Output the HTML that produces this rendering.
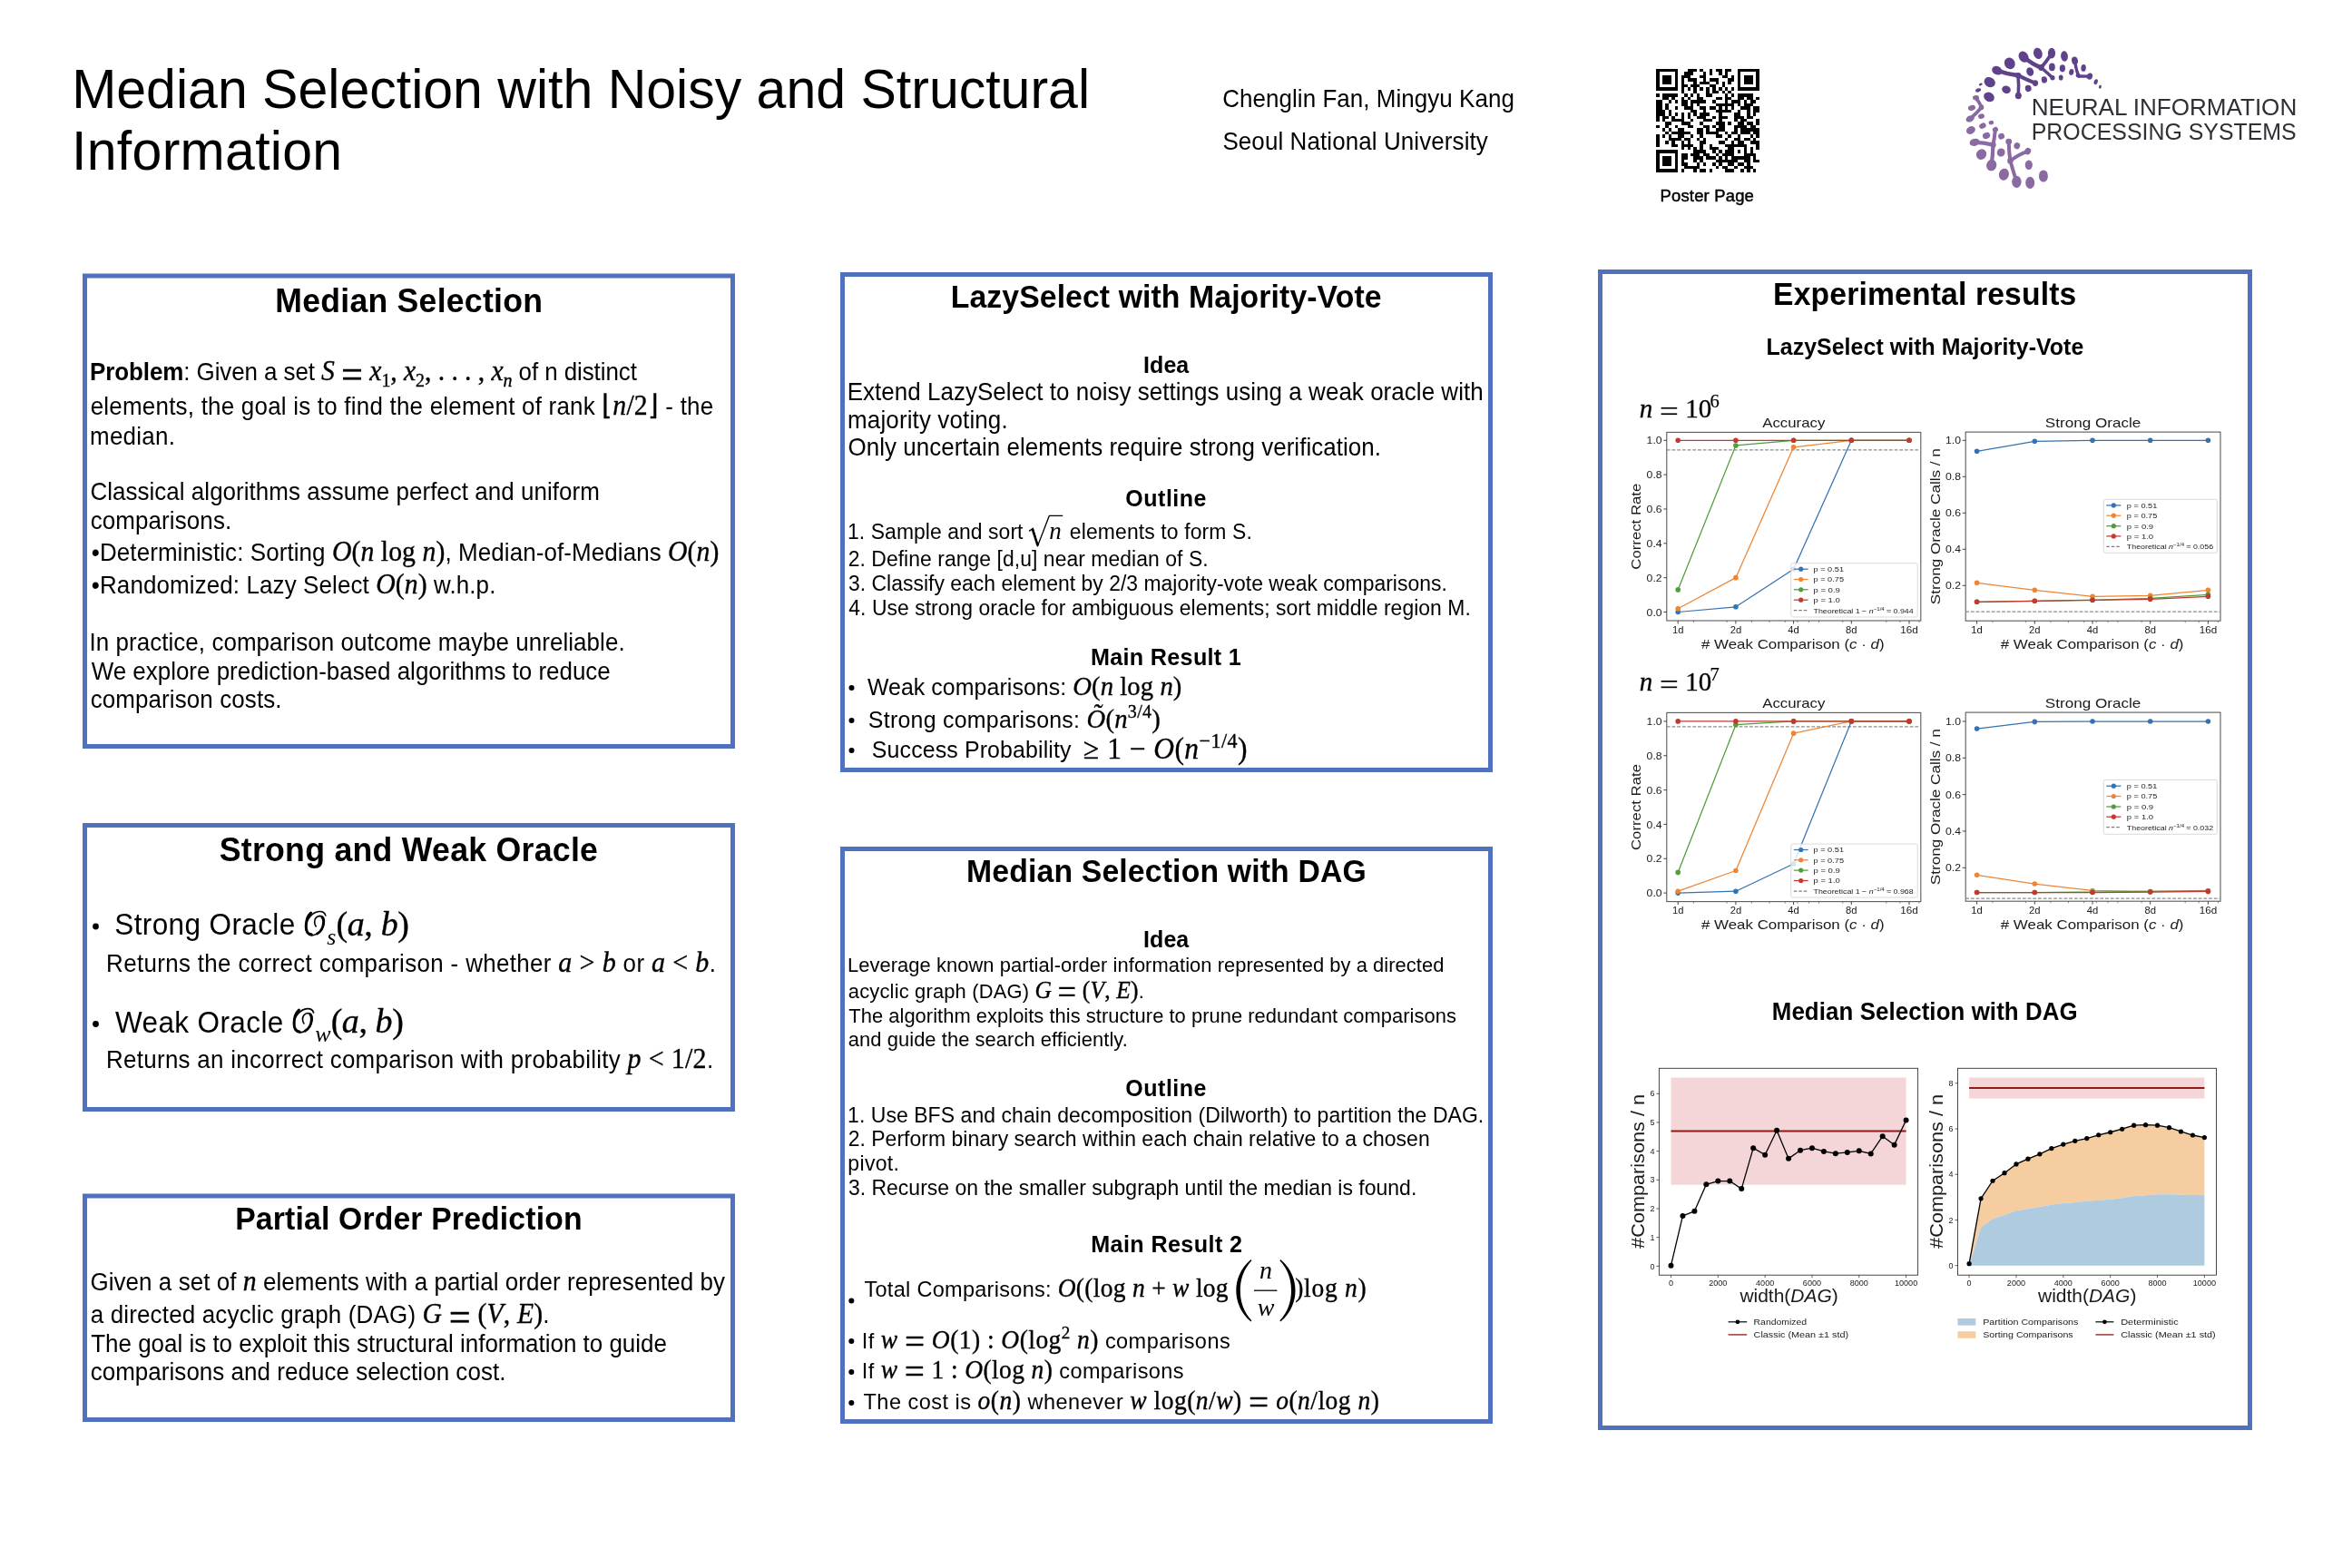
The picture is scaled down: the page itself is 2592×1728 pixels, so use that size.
<!DOCTYPE html>
<html><head><meta charset="utf-8"><title>Median Selection with Noisy and Structural Information</title>
<style>html,body{margin:0;padding:0;background:#fff;overflow:hidden;} svg{display:block;will-change:transform;}</style></head>
<body><svg width="2592" height="1728" viewBox="0 0 2592 1728" font-family="'Liberation Sans',sans-serif">
<rect width="2592" height="1728" fill="#fff"/>
<text x="79.16" y="119.00" font-size="59.0" transform="matrix(1 0 0 1.04 0 -4.760)" textLength="1121.88" lengthAdjust="spacing">Median Selection with Noisy and Structural</text>
<text x="79.06" y="186.70" font-size="59.0" transform="matrix(1 0 0 1.04 0 -7.468)" textLength="298.13" lengthAdjust="spacing">Information</text>
<text x="1347.28" y="117.80" font-size="25.95" transform="matrix(1 0 0 1.04 0 -4.712)" textLength="321.59" lengthAdjust="spacing">Chenglin Fan, Mingyu Kang</text>
<text x="1347.42" y="164.60" font-size="25.95" transform="matrix(1 0 0 1.04 0 -6.584)" textLength="292.36" lengthAdjust="spacing">Seoul National University</text>
<text x="1829.48" y="221.70" font-size="18.5" transform="matrix(1 0 0 1.04 0 -8.868)" textLength="103.44" lengthAdjust="spacing" stroke="#000" stroke-width="0.45">Poster Page</text>
<text x="2238.73" y="127.10" font-size="25.2" fill="#2e3036" textLength="292.50" lengthAdjust="spacingAndGlyphs">NEURAL INFORMATION</text>
<text x="2238.73" y="153.60" font-size="25.2" fill="#2e3036" textLength="292.00" lengthAdjust="spacingAndGlyphs">PROCESSING SYSTEMS</text>
<rect x="93.5" y="304.0" width="714" height="518.5" fill="none" stroke="#5072BE" stroke-width="5"/>
<rect x="93.5" y="909.5" width="714" height="313" fill="none" stroke="#5072BE" stroke-width="5"/>
<rect x="93.5" y="1318.0" width="714" height="246.5" fill="none" stroke="#5072BE" stroke-width="5"/>
<rect x="928.5" y="302.5" width="714" height="546" fill="none" stroke="#5072BE" stroke-width="5"/>
<rect x="928.5" y="935.5" width="714" height="631" fill="none" stroke="#5072BE" stroke-width="5"/>
<rect x="1763.5" y="299.5" width="716" height="1274" fill="none" stroke="#5072BE" stroke-width="5"/>
<text x="450.60" y="343.80" font-size="35.6" font-weight="bold" text-anchor="middle" transform="matrix(1 0 0 1.04 0 -13.752)" textLength="294.63" lengthAdjust="spacing">Median Selection</text>
<text x="99.06" y="419.40" font-size="25.95" transform="matrix(1 0 0 1.04 0 -16.776)" textLength="602.80" lengthAdjust="spacing"><tspan font-weight="bold">Problem</tspan>: Given a set <tspan font-size="29.7" stroke="#000" stroke-width="0.35"><tspan font-family="'Liberation Serif',serif" font-style="italic">S</tspan><tspan font-family="'Liberation Serif',serif"> </tspan><tspan font-family="'Liberation Serif',serif" font-size="42.5" baseline-shift="-6.7">=</tspan><tspan font-family="'Liberation Serif',serif"> </tspan><tspan font-family="'Liberation Serif',serif" font-style="italic">x</tspan><tspan baseline-shift="-6" font-size="20"><tspan font-family="'Liberation Serif',serif" font-size="20">1</tspan></tspan><tspan font-family="'Liberation Serif',serif">, </tspan><tspan font-family="'Liberation Serif',serif" font-style="italic">x</tspan><tspan baseline-shift="-6" font-size="20"><tspan font-family="'Liberation Serif',serif" font-size="20">2</tspan></tspan><tspan font-family="'Liberation Serif',serif">, . . . , </tspan><tspan font-family="'Liberation Serif',serif" font-style="italic">x</tspan><tspan baseline-shift="-6" font-size="20"><tspan font-family="'Liberation Serif',serif" font-style="italic" font-size="20">n</tspan></tspan></tspan> of n distinct</text>
<text x="99.70" y="456.70" font-size="25.95" transform="matrix(1 0 0 1.04 0 -18.268)" textLength="686.47" lengthAdjust="spacing">elements, the goal is to find the element of rank <tspan font-size="29.7" stroke="#000" stroke-width="0.35"><tspan font-family="'Liberation Serif',serif">⌊</tspan><tspan font-family="'Liberation Serif',serif" font-style="italic">n</tspan><tspan font-family="'Liberation Serif',serif">/2</tspan><tspan font-family="'Liberation Serif',serif">⌋</tspan></tspan> - the</text>
<text x="99.08" y="489.80" font-size="25.95" transform="matrix(1 0 0 1.04 0 -19.592)" textLength="93.81" lengthAdjust="spacing">median.</text>
<text x="99.48" y="551.50" font-size="25.95" transform="matrix(1 0 0 1.04 0 -22.060)" textLength="561.30" lengthAdjust="spacing">Classical algorithms assume perfect and uniform</text>
<text x="99.70" y="582.70" font-size="25.95" transform="matrix(1 0 0 1.04 0 -23.308)" textLength="155.49" lengthAdjust="spacing">comparisons.</text>
<text x="100.80" y="618.00" font-size="25.95" transform="matrix(1 0 0 1.04 0 -24.720)" textLength="691.61" lengthAdjust="spacing">•Deterministic: Sorting <tspan font-size="29.7" stroke="#000" stroke-width="0.35"><tspan font-family="'Liberation Serif',serif" font-style="italic">O</tspan><tspan font-family="'Liberation Serif',serif">(</tspan><tspan font-family="'Liberation Serif',serif" font-style="italic">n</tspan><tspan font-family="'Liberation Serif',serif"> log </tspan><tspan font-family="'Liberation Serif',serif" font-style="italic">n</tspan><tspan font-family="'Liberation Serif',serif">)</tspan></tspan>, Median-of-Medians <tspan font-size="29.7" stroke="#000" stroke-width="0.35"><tspan font-family="'Liberation Serif',serif" font-style="italic">O</tspan><tspan font-family="'Liberation Serif',serif">(</tspan><tspan font-family="'Liberation Serif',serif" font-style="italic">n</tspan><tspan font-family="'Liberation Serif',serif">)</tspan></tspan></text>
<text x="100.80" y="654.00" font-size="25.95" transform="matrix(1 0 0 1.04 0 -26.160)" textLength="445.57" lengthAdjust="spacing">•Randomized: Lazy Select <tspan font-size="29.7" stroke="#000" stroke-width="0.35"><tspan font-family="'Liberation Serif',serif" font-style="italic">O</tspan><tspan font-family="'Liberation Serif',serif">(</tspan><tspan font-family="'Liberation Serif',serif" font-style="italic">n</tspan><tspan font-family="'Liberation Serif',serif">)</tspan></tspan> w.h.p.</text>
<text x="98.41" y="717.40" font-size="25.95" transform="matrix(1 0 0 1.04 0 -28.696)" textLength="590.24" lengthAdjust="spacing">In practice, comparison outcome maybe unreliable.</text>
<text x="100.69" y="749.00" font-size="25.95" transform="matrix(1 0 0 1.04 0 -29.960)" textLength="572.06" lengthAdjust="spacing">We explore prediction-based algorithms to reduce</text>
<text x="99.70" y="779.60" font-size="25.95" transform="matrix(1 0 0 1.04 0 -31.184)" textLength="210.79" lengthAdjust="spacing">comparison costs.</text>
<text x="450.35" y="948.80" font-size="35.7" font-weight="bold" text-anchor="middle" transform="matrix(1 0 0 1.04 0 -37.952)" textLength="417.24" lengthAdjust="spacing">Strong and Weak Oracle</text>
<circle cx="105.5" cy="1021" r="3.4" fill="#000"/>
<text x="126.27" y="1030.50" font-size="31.5" transform="matrix(1 0 0 1.04 0 -41.220)" textLength="198.98" lengthAdjust="spacing">Strong Oracle</text>
<g transform="translate(313.35 992.40) scale(0.06803)" fill="none" stroke="#000" stroke-linecap="round"><path d="M668,242 C655,195 610,175 565,178 C460,185 352,300 348,420 C345,510 385,565 440,565 C540,562 640,460 646,350 C652,280 620,250 575,250 C520,252 488,300 490,350 C492,385 500,405 512,418" stroke-width="24"/><path d="M430,200 C375,250 352,340 352,420 C350,500 385,548 440,550" stroke-width="44"/><path d="M530,540 C590,505 632,430 634,350 C636,305 625,282 610,268" stroke-width="40"/></g>
<text x="360.24" y="1040.5" font-family="'Liberation Serif',serif" font-style="italic" font-size="26">s</text>
<text x="370.43" y="1030.50" font-size="31.5" textLength="80.51" lengthAdjust="spacing"><tspan font-size="38" stroke="#000" stroke-width="0.35"><tspan font-family="'Liberation Serif',serif">(</tspan><tspan font-family="'Liberation Serif',serif" font-style="italic">a</tspan><tspan font-family="'Liberation Serif',serif">, </tspan><tspan font-family="'Liberation Serif',serif" font-style="italic">b</tspan><tspan font-family="'Liberation Serif',serif">)</tspan></tspan></text>
<text x="117.08" y="1071.20" font-size="25.9" transform="matrix(1 0 0 1.04 0 -42.848)" textLength="671.77" lengthAdjust="spacing">Returns the correct comparison - whether <tspan font-size="30" stroke="#000" stroke-width="0.35"><tspan font-family="'Liberation Serif',serif" font-style="italic">a</tspan><tspan font-family="'Liberation Serif',serif"> &gt; </tspan><tspan font-family="'Liberation Serif',serif" font-style="italic">b</tspan></tspan> or <tspan font-size="30" stroke="#000" stroke-width="0.35"><tspan font-family="'Liberation Serif',serif" font-style="italic">a</tspan><tspan font-family="'Liberation Serif',serif"> &lt; </tspan><tspan font-family="'Liberation Serif',serif" font-style="italic">b</tspan></tspan>.</text>
<circle cx="105.5" cy="1128.5" r="3.4" fill="#000"/>
<text x="126.96" y="1137.60" font-size="31.5" transform="matrix(1 0 0 1.04 0 -45.504)" textLength="185.33" lengthAdjust="spacing">Weak Oracle</text>
<g transform="translate(300.15 1099.50) scale(0.06803)" fill="none" stroke="#000" stroke-linecap="round"><path d="M668,242 C655,195 610,175 565,178 C460,185 352,300 348,420 C345,510 385,565 440,565 C540,562 640,460 646,350 C652,280 620,250 575,250 C520,252 488,300 490,350 C492,385 500,405 512,418" stroke-width="24"/><path d="M430,200 C375,250 352,340 352,420 C350,500 385,548 440,550" stroke-width="44"/><path d="M530,540 C590,505 632,430 634,350 C636,305 625,282 610,268" stroke-width="40"/></g>
<text x="347.16" y="1147.6" font-family="'Liberation Serif',serif" font-style="italic" font-size="26">w</text>
<text x="364.63" y="1137.60" font-size="31.5" textLength="80.21" lengthAdjust="spacing"><tspan font-size="38" stroke="#000" stroke-width="0.35"><tspan font-family="'Liberation Serif',serif">(</tspan><tspan font-family="'Liberation Serif',serif" font-style="italic">a</tspan><tspan font-family="'Liberation Serif',serif">, </tspan><tspan font-family="'Liberation Serif',serif" font-style="italic">b</tspan><tspan font-family="'Liberation Serif',serif">)</tspan></tspan></text>
<text x="117.08" y="1177.40" font-size="25.9" transform="matrix(1 0 0 1.04 0 -47.096)" textLength="669.05" lengthAdjust="spacing">Returns an incorrect comparison with probability <tspan font-size="30" stroke="#000" stroke-width="0.35"><tspan font-family="'Liberation Serif',serif" font-style="italic">p</tspan><tspan font-family="'Liberation Serif',serif"> &lt; 1/2</tspan></tspan>.</text>
<text x="450.40" y="1354.90" font-size="33.75" font-weight="bold" text-anchor="middle" transform="matrix(1 0 0 1.04 0 -54.196)" textLength="382.36" lengthAdjust="spacing">Partial Order Prediction</text>
<text x="99.49" y="1422.30" font-size="25.97" transform="matrix(1 0 0 1.04 0 -56.892)" textLength="699.43" lengthAdjust="spacing">Given a set of <tspan font-size="29.7" stroke="#000" stroke-width="0.35"><tspan font-family="'Liberation Serif',serif" font-style="italic">n</tspan></tspan> elements with a partial order represented by</text>
<text x="99.70" y="1458.40" font-size="25.97" transform="matrix(1 0 0 1.04 0 -58.336)" textLength="505.88" lengthAdjust="spacing">a directed acyclic graph (DAG) <tspan font-size="29.7" stroke="#000" stroke-width="0.35"><tspan font-family="'Liberation Serif',serif" font-style="italic">G</tspan><tspan font-family="'Liberation Serif',serif"> </tspan><tspan font-family="'Liberation Serif',serif" font-size="42.5" baseline-shift="-6.7">=</tspan><tspan font-family="'Liberation Serif',serif"> </tspan><tspan font-family="'Liberation Serif',serif">(</tspan><tspan font-family="'Liberation Serif',serif" font-style="italic">V</tspan><tspan font-family="'Liberation Serif',serif">, </tspan><tspan font-family="'Liberation Serif',serif" font-style="italic">E</tspan><tspan font-family="'Liberation Serif',serif">)</tspan></tspan>.</text>
<text x="100.22" y="1490.50" font-size="25.97" transform="matrix(1 0 0 1.04 0 -59.620)" textLength="634.71" lengthAdjust="spacing">The goal is to exploit this structural information to guide</text>
<text x="99.70" y="1521.10" font-size="25.97" transform="matrix(1 0 0 1.04 0 -60.844)" textLength="457.69" lengthAdjust="spacing">comparisons and reduce selection cost.</text>
<text x="1285.15" y="338.70" font-size="33.78" font-weight="bold" text-anchor="middle" transform="matrix(1 0 0 1.04 0 -13.548)" textLength="474.87" lengthAdjust="spacing">LazySelect with Majority-Vote</text>
<text x="1285.15" y="410.60" font-size="25" font-weight="bold" text-anchor="middle" transform="matrix(1 0 0 1.04 0 -16.424)" textLength="50.22" lengthAdjust="spacing">Idea</text>
<text x="933.67" y="441.20" font-size="25.95" transform="matrix(1 0 0 1.04 0 -17.648)" textLength="701.01" lengthAdjust="spacing">Extend LazySelect to noisy settings using a weak oracle with</text>
<text x="934.08" y="472.50" font-size="25.95" transform="matrix(1 0 0 1.04 0 -18.900)" textLength="176.58" lengthAdjust="spacing">majority voting.</text>
<text x="934.57" y="502.50" font-size="25.95" transform="matrix(1 0 0 1.04 0 -20.100)" textLength="587.29" lengthAdjust="spacing">Only uncertain elements require strong verification.</text>
<text x="1284.90" y="558.20" font-size="25" font-weight="bold" text-anchor="middle" transform="matrix(1 0 0 1.04 0 -22.328)" textLength="89.10" lengthAdjust="spacing">Outline</text>
<text x="934.06" y="593.70" font-size="22.9" transform="matrix(1 0 0 1.04 0 -23.748)" textLength="193.40" lengthAdjust="spacing">1. Sample and sort</text>
<path d="M1134.1,585.4 L1138.3,582.4 L1143.7,601.3 L1156.3,568.4 L1171.2,568.4" fill="none" stroke="#000" stroke-width="1.3" stroke-linejoin="miter"/>
<path d="M1137.8,583.2 L1143.7,601.3" fill="none" stroke="#000" stroke-width="2.6"/>
<text x="1156.2" y="593.7" font-family="'Liberation Serif',serif" font-style="italic" font-size="27">n</text>
<text x="1178.83" y="593.70" font-size="22.9" transform="matrix(1 0 0 1.04 0 -23.748)" textLength="201.02" lengthAdjust="spacing">elements to form S.</text>
<text x="934.65" y="624.30" font-size="22.9" transform="matrix(1 0 0 1.04 0 -24.972)" textLength="396.99" lengthAdjust="spacing">2. Define range [d,u] near median of S.</text>
<text x="934.93" y="651.20" font-size="22.9" transform="matrix(1 0 0 1.04 0 -26.048)" textLength="659.93" lengthAdjust="spacing">3. Classify each element by 2/3 majority-vote weak comparisons.</text>
<text x="935.27" y="677.80" font-size="22.9" transform="matrix(1 0 0 1.04 0 -27.112)" textLength="685.55" lengthAdjust="spacing">4. Use strong oracle for ambiguous elements; sort middle region M.</text>
<text x="1284.90" y="733.00" font-size="25.2" font-weight="bold" text-anchor="middle" transform="matrix(1 0 0 1.04 0 -29.320)" textLength="165.90" lengthAdjust="spacing">Main Result 1</text>
<circle cx="938.5" cy="758" r="3" fill="#000"/>
<text x="955.89" y="765.70" font-size="24.9" transform="matrix(1 0 0 1.04 0 -30.628)" textLength="346.54" lengthAdjust="spacing">Weak comparisons: <tspan font-size="28.7" stroke="#000" stroke-width="0.35"><tspan font-family="'Liberation Serif',serif" font-style="italic">O</tspan><tspan font-family="'Liberation Serif',serif">(</tspan><tspan font-family="'Liberation Serif',serif" font-style="italic">n</tspan><tspan font-family="'Liberation Serif',serif"> log </tspan><tspan font-family="'Liberation Serif',serif" font-style="italic">n</tspan><tspan font-family="'Liberation Serif',serif">)</tspan></tspan></text>
<circle cx="938.5" cy="794" r="3" fill="#000"/>
<text x="956.87" y="801.80" font-size="24.9" transform="matrix(1 0 0 1.04 0 -32.072)" textLength="321.91" lengthAdjust="spacing">Strong comparisons: <tspan font-size="28.7" stroke="#000" stroke-width="0.35"><tspan font-family="'Liberation Serif',serif" font-style="italic">Õ</tspan><tspan font-family="'Liberation Serif',serif">(</tspan><tspan font-family="'Liberation Serif',serif" font-style="italic">n</tspan><tspan baseline-shift="11" font-size="20"><tspan font-family="'Liberation Serif',serif" font-size="20">3/4</tspan></tspan><tspan font-family="'Liberation Serif',serif">)</tspan></tspan></text>
<circle cx="938.5" cy="827" r="3" fill="#000"/>
<text x="960.87" y="835.50" font-size="24.9" transform="matrix(1 0 0 1.04 0 -33.420)" textLength="219.68" lengthAdjust="spacing">Success Probability</text>
<text x="1194.11" y="836.30" font-size="24.9" transform="matrix(1 0 0 1.04 0 -33.452)" textLength="180.28" lengthAdjust="spacing"><tspan font-size="31.5" stroke="#000" stroke-width="0.35"><tspan font-family="'Liberation Serif',serif">≥ 1 − </tspan><tspan font-family="'Liberation Serif',serif" font-style="italic">O</tspan><tspan font-family="'Liberation Serif',serif">(</tspan><tspan font-family="'Liberation Serif',serif" font-style="italic">n</tspan><tspan baseline-shift="12" font-size="22"><tspan font-family="'Liberation Serif',serif" font-size="22">−1/4</tspan></tspan><tspan font-family="'Liberation Serif',serif">)</tspan></tspan></text>
<text x="1285.35" y="971.90" font-size="33.77" font-weight="bold" text-anchor="middle" transform="matrix(1 0 0 1.04 0 -38.876)" textLength="440.80" lengthAdjust="spacing">Median Selection with DAG</text>
<text x="1285.15" y="1043.90" font-size="25" font-weight="bold" text-anchor="middle" transform="matrix(1 0 0 1.04 0 -41.756)" textLength="50.22" lengthAdjust="spacing">Idea</text>
<text x="934.00" y="1070.80" font-size="21.92" transform="matrix(1 0 0 1.04 0 -42.832)" textLength="657.42" lengthAdjust="spacing">Leverage known partial-order information represented by a directed</text>
<text x="934.87" y="1099.90" font-size="21.92" transform="matrix(1 0 0 1.04 0 -43.996)" textLength="325.91" lengthAdjust="spacing">acyclic graph (DAG) <tspan font-size="25.5" stroke="#000" stroke-width="0.35"><tspan font-family="'Liberation Serif',serif" font-style="italic">G</tspan><tspan font-family="'Liberation Serif',serif"> </tspan><tspan font-family="'Liberation Serif',serif" font-size="36.5" baseline-shift="-5.7">=</tspan><tspan font-family="'Liberation Serif',serif"> </tspan><tspan font-family="'Liberation Serif',serif">(</tspan><tspan font-family="'Liberation Serif',serif" font-style="italic">V</tspan><tspan font-family="'Liberation Serif',serif">, </tspan><tspan font-family="'Liberation Serif',serif" font-style="italic">E</tspan><tspan font-family="'Liberation Serif',serif">)</tspan></tspan>.</text>
<text x="935.31" y="1126.80" font-size="21.92" transform="matrix(1 0 0 1.04 0 -45.072)" textLength="669.60" lengthAdjust="spacing">The algorithm exploits this structure to prune redundant comparisons</text>
<text x="934.87" y="1152.80" font-size="21.92" transform="matrix(1 0 0 1.04 0 -46.112)" textLength="307.94" lengthAdjust="spacing">and guide the search efficiently.</text>
<text x="1284.90" y="1208.20" font-size="25" font-weight="bold" text-anchor="middle" transform="matrix(1 0 0 1.04 0 -48.328)" textLength="89.10" lengthAdjust="spacing">Outline</text>
<text x="934.05" y="1236.60" font-size="22.98" transform="matrix(1 0 0 1.04 0 -49.464)" textLength="701.19" lengthAdjust="spacing">1.  Use BFS and chain decomposition (Dilworth) to partition the DAG.</text>
<text x="934.64" y="1263.30" font-size="22.98" transform="matrix(1 0 0 1.04 0 -50.532)" textLength="641.07" lengthAdjust="spacing">2. Perform binary search within each chain relative to a chosen</text>
<text x="934.32" y="1289.60" font-size="22.98" transform="matrix(1 0 0 1.04 0 -51.584)" textLength="56.62" lengthAdjust="spacing">pivot.</text>
<text x="934.92" y="1316.80" font-size="22.98" transform="matrix(1 0 0 1.04 0 -52.672)" textLength="626.35" lengthAdjust="spacing">3. Recurse on the smaller subgraph until the median is found.</text>
<text x="1285.60" y="1379.60" font-size="25.2" font-weight="bold" text-anchor="middle" transform="matrix(1 0 0 1.04 0 -55.184)" textLength="166.90" lengthAdjust="spacing">Main Result 2</text>
<circle cx="938.3" cy="1433.6" r="3" fill="#000"/>
<text x="952.47" y="1429.00" font-size="23.5" transform="matrix(1 0 0 1.04 0 -57.160)" textLength="401.16" lengthAdjust="spacing">Total Comparisons: <tspan font-size="27.5" stroke="#000" stroke-width="0.35"><tspan font-family="'Liberation Serif',serif" font-style="italic">O</tspan><tspan font-family="'Liberation Serif',serif">((log </tspan><tspan font-family="'Liberation Serif',serif" font-style="italic">n</tspan><tspan font-family="'Liberation Serif',serif"> + </tspan><tspan font-family="'Liberation Serif',serif" font-style="italic">w</tspan><tspan font-family="'Liberation Serif',serif"> log </tspan></tspan></text>
<path d="M1378.6,1388 C1366.5,1398 1362.3,1411 1362.3,1422.2 C1362.3,1433.4 1366.5,1446.4 1378.6,1456.5 L1379.4,1455.2 C1370,1445.5 1366.8,1433.4 1366.8,1422.2 C1366.8,1411 1370,1399 1379.4,1389.3 Z" fill="#000"/>
<path d="M1411.2,1388 C1423.3,1398 1427.5,1411 1427.5,1422.2 C1427.5,1433.4 1423.3,1446.4 1411.2,1456.5 L1410.4,1455.2 C1419.8,1445.5 1423,1433.4 1423,1422.2 C1423,1411 1419.8,1399 1410.4,1389.3 Z" fill="#000"/>
<text x="1395" y="1409" font-family="'Liberation Serif',serif" font-style="italic" font-size="28" text-anchor="middle">n</text>
<line x1="1382" y1="1422.2" x2="1407.4" y2="1422.2" stroke="#000" stroke-width="1.3"/>
<text x="1395" y="1450.4" font-family="'Liberation Serif',serif" font-style="italic" font-size="28" text-anchor="middle">w</text>
<text x="1427.20" y="1429.00" font-size="23.5" transform="matrix(1 0 0 1.04 0 -57.160)" textLength="78.58" lengthAdjust="spacing"><tspan font-size="27.5" stroke="#000" stroke-width="0.35"><tspan font-family="'Liberation Serif',serif">)log </tspan><tspan font-family="'Liberation Serif',serif" font-style="italic">n</tspan><tspan font-family="'Liberation Serif',serif">)</tspan></tspan></text>
<circle cx="938.3" cy="1478" r="3" fill="#000"/>
<text x="949.83" y="1485.60" font-size="23.5" transform="matrix(1 0 0 1.04 0 -59.424)" textLength="405.84" lengthAdjust="spacing">If <tspan font-size="27.5" stroke="#000" stroke-width="0.35"><tspan font-family="'Liberation Serif',serif" font-style="italic">w</tspan><tspan font-family="'Liberation Serif',serif"> </tspan><tspan font-family="'Liberation Serif',serif" font-size="39.3" baseline-shift="-6.2">=</tspan><tspan font-family="'Liberation Serif',serif"> </tspan><tspan font-family="'Liberation Serif',serif" font-style="italic">O</tspan><tspan font-family="'Liberation Serif',serif">(1) : </tspan><tspan font-family="'Liberation Serif',serif" font-style="italic">O</tspan><tspan font-family="'Liberation Serif',serif">(log</tspan><tspan baseline-shift="10" font-size="19"><tspan font-family="'Liberation Serif',serif" font-size="19">2</tspan></tspan><tspan font-family="'Liberation Serif',serif"> </tspan><tspan font-family="'Liberation Serif',serif" font-style="italic">n</tspan><tspan font-family="'Liberation Serif',serif">)</tspan></tspan> comparisons</text>
<circle cx="938.3" cy="1512" r="3" fill="#000"/>
<text x="949.83" y="1519.30" font-size="23.5" transform="matrix(1 0 0 1.04 0 -60.772)" textLength="354.66" lengthAdjust="spacing">If <tspan font-size="27.5" stroke="#000" stroke-width="0.35"><tspan font-family="'Liberation Serif',serif" font-style="italic">w</tspan><tspan font-family="'Liberation Serif',serif"> </tspan><tspan font-family="'Liberation Serif',serif" font-size="39.3" baseline-shift="-6.2">=</tspan><tspan font-family="'Liberation Serif',serif"> </tspan><tspan font-family="'Liberation Serif',serif">1 : </tspan><tspan font-family="'Liberation Serif',serif" font-style="italic">O</tspan><tspan font-family="'Liberation Serif',serif">(log </tspan><tspan font-family="'Liberation Serif',serif" font-style="italic">n</tspan><tspan font-family="'Liberation Serif',serif">)</tspan></tspan> comparisons</text>
<circle cx="938.3" cy="1546" r="3" fill="#000"/>
<text x="951.47" y="1553.00" font-size="23.5" transform="matrix(1 0 0 1.04 0 -62.120)" textLength="568.36" lengthAdjust="spacing">The cost is <tspan font-size="27.5" stroke="#000" stroke-width="0.35"><tspan font-family="'Liberation Serif',serif" font-style="italic">o</tspan><tspan font-family="'Liberation Serif',serif">(</tspan><tspan font-family="'Liberation Serif',serif" font-style="italic">n</tspan><tspan font-family="'Liberation Serif',serif">)</tspan></tspan> whenever <tspan font-size="27.5" stroke="#000" stroke-width="0.35"><tspan font-family="'Liberation Serif',serif" font-style="italic">w</tspan><tspan font-family="'Liberation Serif',serif"> log(</tspan><tspan font-family="'Liberation Serif',serif" font-style="italic">n</tspan><tspan font-family="'Liberation Serif',serif">/</tspan><tspan font-family="'Liberation Serif',serif" font-style="italic">w</tspan><tspan font-family="'Liberation Serif',serif">)</tspan><tspan font-family="'Liberation Serif',serif"> </tspan><tspan font-family="'Liberation Serif',serif" font-size="39.3" baseline-shift="-6.2">=</tspan><tspan font-family="'Liberation Serif',serif"> </tspan><tspan font-family="'Liberation Serif',serif" font-style="italic">o</tspan><tspan font-family="'Liberation Serif',serif">(</tspan><tspan font-family="'Liberation Serif',serif" font-style="italic">n</tspan><tspan font-family="'Liberation Serif',serif">/log </tspan><tspan font-family="'Liberation Serif',serif" font-style="italic">n</tspan><tspan font-family="'Liberation Serif',serif">)</tspan></tspan></text>
<text x="2121.20" y="336.20" font-size="33.65" font-weight="bold" text-anchor="middle" transform="matrix(1 0 0 1.04 0 -13.448)" textLength="334.26" lengthAdjust="spacing">Experimental results</text>
<text x="2121.40" y="391.50" font-size="24.86" font-weight="bold" text-anchor="middle" transform="matrix(1 0 0 1.04 0 -15.660)" textLength="349.82" lengthAdjust="spacing">LazySelect with Majority-Vote</text>
<text x="2121.20" y="1124.30" font-size="25.85" font-weight="bold" text-anchor="middle" transform="matrix(1 0 0 1.04 0 -44.972)" textLength="336.89" lengthAdjust="spacing">Median Selection with DAG</text>
<text x="1806.7" y="459.5" font-size="29" font-family="'Liberation Serif',serif" font-style="italic" fill="#000" stroke="#000" stroke-width="0.3">n</text>
<rect x="1830.6" y="448.90" width="17.6" height="1.7" fill="#000"/><rect x="1830.6" y="455.40" width="17.6" height="1.7" fill="#000"/>
<text x="1857.2" y="459.5" font-size="29" font-family="'Liberation Serif',serif" fill="#000" stroke="#000" stroke-width="0.3">10</text>
<text x="1884.6" y="448.5" font-size="20.5" font-family="'Liberation Serif',serif" fill="#000" stroke="#000" stroke-width="0.2">6</text>
<text x="1806.7" y="760.6" font-size="29" font-family="'Liberation Serif',serif" font-style="italic" fill="#000" stroke="#000" stroke-width="0.3">n</text>
<rect x="1830.6" y="750.00" width="17.6" height="1.7" fill="#000"/><rect x="1830.6" y="756.50" width="17.6" height="1.7" fill="#000"/>
<text x="1857.2" y="760.6" font-size="29" font-family="'Liberation Serif',serif" fill="#000" stroke="#000" stroke-width="0.3">10</text>
<text x="1884.6" y="749.6" font-size="20.5" font-family="'Liberation Serif',serif" fill="#000" stroke="#000" stroke-width="0.2">7</text>
<rect x="1836.80" y="476.40" width="280.00" height="207.60" fill="#fff" stroke="#5a5a5a" stroke-width="1.1"/>
<text x="1976.80" y="471.40" font-size="14.2" font-family="'Liberation Sans',sans-serif" fill="#1a1a1a" text-anchor="middle" textLength="69.20" lengthAdjust="spacingAndGlyphs">Accuracy</text>
<line x1="1833.30" y1="674.50" x2="1836.80" y2="674.50" stroke="#333" stroke-width="0.9"/>
<text x="1831.60" y="678.60" font-size="11.6" font-family="'Liberation Sans',sans-serif" fill="#1a1a1a" text-anchor="end" textLength="17.00" lengthAdjust="spacingAndGlyphs">0.0</text>
<line x1="1833.30" y1="636.66" x2="1836.80" y2="636.66" stroke="#333" stroke-width="0.9"/>
<text x="1831.60" y="640.76" font-size="11.6" font-family="'Liberation Sans',sans-serif" fill="#1a1a1a" text-anchor="end" textLength="17.00" lengthAdjust="spacingAndGlyphs">0.2</text>
<line x1="1833.30" y1="598.82" x2="1836.80" y2="598.82" stroke="#333" stroke-width="0.9"/>
<text x="1831.60" y="602.92" font-size="11.6" font-family="'Liberation Sans',sans-serif" fill="#1a1a1a" text-anchor="end" textLength="17.00" lengthAdjust="spacingAndGlyphs">0.4</text>
<line x1="1833.30" y1="560.98" x2="1836.80" y2="560.98" stroke="#333" stroke-width="0.9"/>
<text x="1831.60" y="565.08" font-size="11.6" font-family="'Liberation Sans',sans-serif" fill="#1a1a1a" text-anchor="end" textLength="17.00" lengthAdjust="spacingAndGlyphs">0.6</text>
<line x1="1833.30" y1="523.14" x2="1836.80" y2="523.14" stroke="#333" stroke-width="0.9"/>
<text x="1831.60" y="527.24" font-size="11.6" font-family="'Liberation Sans',sans-serif" fill="#1a1a1a" text-anchor="end" textLength="17.00" lengthAdjust="spacingAndGlyphs">0.8</text>
<line x1="1833.30" y1="485.30" x2="1836.80" y2="485.30" stroke="#333" stroke-width="0.9"/>
<text x="1831.60" y="489.40" font-size="11.6" font-family="'Liberation Sans',sans-serif" fill="#1a1a1a" text-anchor="end" textLength="17.00" lengthAdjust="spacingAndGlyphs">1.0</text>
<line x1="1849.20" y1="684.00" x2="1849.20" y2="687.50" stroke="#333" stroke-width="0.9"/>
<text x="1849.20" y="697.80" font-size="11.6" font-family="'Liberation Sans',sans-serif" fill="#1a1a1a" text-anchor="middle" textLength="12.50" lengthAdjust="spacingAndGlyphs">1d</text>
<line x1="1912.90" y1="684.00" x2="1912.90" y2="687.50" stroke="#333" stroke-width="0.9"/>
<text x="1912.90" y="697.80" font-size="11.6" font-family="'Liberation Sans',sans-serif" fill="#1a1a1a" text-anchor="middle" textLength="12.50" lengthAdjust="spacingAndGlyphs">2d</text>
<line x1="1976.60" y1="684.00" x2="1976.60" y2="687.50" stroke="#333" stroke-width="0.9"/>
<text x="1976.60" y="697.80" font-size="11.6" font-family="'Liberation Sans',sans-serif" fill="#1a1a1a" text-anchor="middle" textLength="12.50" lengthAdjust="spacingAndGlyphs">4d</text>
<line x1="2040.30" y1="684.00" x2="2040.30" y2="687.50" stroke="#333" stroke-width="0.9"/>
<text x="2040.30" y="697.80" font-size="11.6" font-family="'Liberation Sans',sans-serif" fill="#1a1a1a" text-anchor="middle" textLength="12.50" lengthAdjust="spacingAndGlyphs">8d</text>
<line x1="2104.00" y1="684.00" x2="2104.00" y2="687.50" stroke="#333" stroke-width="0.9"/>
<text x="2104.00" y="697.80" font-size="11.6" font-family="'Liberation Sans',sans-serif" fill="#1a1a1a" text-anchor="middle" textLength="19.50" lengthAdjust="spacingAndGlyphs">16d</text>
<line x1="1866.40" y1="684.00" x2="1866.40" y2="686.00" stroke="#555" stroke-width="0.7"/>
<line x1="1903.00" y1="684.00" x2="1903.00" y2="686.00" stroke="#555" stroke-width="0.7"/>
<line x1="1930.40" y1="684.00" x2="1930.40" y2="686.00" stroke="#555" stroke-width="0.7"/>
<line x1="1950.10" y1="684.00" x2="1950.10" y2="686.00" stroke="#555" stroke-width="0.7"/>
<line x1="1967.30" y1="684.00" x2="1967.30" y2="686.00" stroke="#555" stroke-width="0.7"/>
<line x1="1980.90" y1="684.00" x2="1980.90" y2="686.00" stroke="#555" stroke-width="0.7"/>
<line x1="1993.60" y1="684.00" x2="1993.60" y2="686.00" stroke="#555" stroke-width="0.7"/>
<line x1="2004.50" y1="684.00" x2="2004.50" y2="686.00" stroke="#555" stroke-width="0.7"/>
<line x1="2030.70" y1="684.00" x2="2030.70" y2="686.00" stroke="#555" stroke-width="0.7"/>
<line x1="2078.80" y1="684.00" x2="2078.80" y2="686.00" stroke="#555" stroke-width="0.7"/>
<line x1="2093.80" y1="684.00" x2="2093.80" y2="686.00" stroke="#555" stroke-width="0.7"/>
<line x1="2115.00" y1="684.00" x2="2115.00" y2="686.00" stroke="#555" stroke-width="0.7"/>
<text x="1975.80" y="714.60" font-size="14.4" font-family="'Liberation Sans',sans-serif" fill="#1a1a1a" text-anchor="middle" textLength="201.70" lengthAdjust="spacingAndGlyphs"># Weak Comparison (<tspan font-style="italic">c</tspan> · <tspan font-style="italic">d</tspan>)</text>
<text x="1807.88" y="580.20" font-size="14.4" font-family="'Liberation Sans',sans-serif" fill="#1a1a1a" text-anchor="middle" transform="rotate(-90 1807.88 580.20)" textLength="95.00" lengthAdjust="spacingAndGlyphs">Correct Rate</text>
<line x1="1836.80" y1="495.90" x2="2116.80" y2="495.90" stroke="#8c8c8c" stroke-width="1.3" stroke-dasharray="3.8,1.9"/>
<polyline points="1849.20,674.50 1912.90,668.82 1976.60,627.20 2040.30,485.30 2104.00,485.30" fill="none" stroke="#3472b2" stroke-width="1.25" stroke-linejoin="round"/>
<circle cx="1849.20" cy="674.50" r="2.8" fill="#3472b2"/>
<circle cx="1912.90" cy="668.82" r="2.8" fill="#3472b2"/>
<circle cx="1976.60" cy="627.20" r="2.8" fill="#3472b2"/>
<circle cx="2040.30" cy="485.30" r="2.8" fill="#3472b2"/>
<circle cx="2104.00" cy="485.30" r="2.8" fill="#3472b2"/>
<polyline points="1849.20,670.72 1912.90,636.66 1976.60,492.87 2040.30,485.30 2104.00,485.30" fill="none" stroke="#ee8534" stroke-width="1.25" stroke-linejoin="round"/>
<circle cx="1849.20" cy="670.72" r="2.8" fill="#ee8534"/>
<circle cx="1912.90" cy="636.66" r="2.8" fill="#ee8534"/>
<circle cx="1976.60" cy="492.87" r="2.8" fill="#ee8534"/>
<circle cx="2040.30" cy="485.30" r="2.8" fill="#ee8534"/>
<circle cx="2104.00" cy="485.30" r="2.8" fill="#ee8534"/>
<polyline points="1849.20,649.90 1912.90,490.98 1976.60,485.30 2040.30,485.30 2104.00,485.30" fill="none" stroke="#509e3a" stroke-width="1.25" stroke-linejoin="round"/>
<circle cx="1849.20" cy="649.90" r="2.8" fill="#509e3a"/>
<circle cx="1912.90" cy="490.98" r="2.8" fill="#509e3a"/>
<circle cx="1976.60" cy="485.30" r="2.8" fill="#509e3a"/>
<circle cx="2040.30" cy="485.30" r="2.8" fill="#509e3a"/>
<circle cx="2104.00" cy="485.30" r="2.8" fill="#509e3a"/>
<polyline points="1849.20,485.30 1912.90,485.30 1976.60,485.30 2040.30,485.30 2104.00,485.30" fill="none" stroke="#c53830" stroke-width="1.25" stroke-linejoin="round"/>
<circle cx="1849.20" cy="485.30" r="2.8" fill="#c53830"/>
<circle cx="1912.90" cy="485.30" r="2.8" fill="#c53830"/>
<circle cx="1976.60" cy="485.30" r="2.8" fill="#c53830"/>
<circle cx="2040.30" cy="485.30" r="2.8" fill="#c53830"/>
<circle cx="2104.00" cy="485.30" r="2.8" fill="#c53830"/>
<rect x="1973.80" y="620.70" width="139.40" height="59.30" rx="1.8" fill="#fff" fill-opacity="0.8" stroke="#d0d0d0" stroke-width="0.8"/>
<line x1="1976.80" y1="627.20" x2="1992.60" y2="627.20" stroke="#3472b2" stroke-width="1.25"/>
<circle cx="1984.70" cy="627.20" r="2.6" fill="#3472b2"/>
<text x="1998.50" y="630.10" font-size="8.1" font-family="'Liberation Sans',sans-serif" fill="#1a1a1a" textLength="33.50" lengthAdjust="spacingAndGlyphs">p = 0.51</text>
<line x1="1976.80" y1="638.50" x2="1992.60" y2="638.50" stroke="#ee8534" stroke-width="1.25"/>
<circle cx="1984.70" cy="638.50" r="2.6" fill="#ee8534"/>
<text x="1998.50" y="641.40" font-size="8.1" font-family="'Liberation Sans',sans-serif" fill="#1a1a1a" textLength="33.50" lengthAdjust="spacingAndGlyphs">p = 0.75</text>
<line x1="1976.80" y1="649.80" x2="1992.60" y2="649.80" stroke="#509e3a" stroke-width="1.25"/>
<circle cx="1984.70" cy="649.80" r="2.6" fill="#509e3a"/>
<text x="1998.50" y="652.70" font-size="8.1" font-family="'Liberation Sans',sans-serif" fill="#1a1a1a" textLength="29.35" lengthAdjust="spacingAndGlyphs">p = 0.9</text>
<line x1="1976.80" y1="661.20" x2="1992.60" y2="661.20" stroke="#c53830" stroke-width="1.25"/>
<circle cx="1984.70" cy="661.20" r="2.6" fill="#c53830"/>
<text x="1998.50" y="664.10" font-size="8.1" font-family="'Liberation Sans',sans-serif" fill="#1a1a1a" textLength="29.35" lengthAdjust="spacingAndGlyphs">p = 1.0</text>
<line x1="1976.80" y1="672.70" x2="1992.60" y2="672.70" stroke="#7f7f7f" stroke-width="1.25" stroke-dasharray="3.5,2"/>
<text x="1998.50" y="675.60" font-size="8.1" font-family="'Liberation Sans',sans-serif" fill="#1a1a1a" textLength="110.20" lengthAdjust="spacingAndGlyphs"><tspan>Theoretical 1 − </tspan><tspan font-style="italic">n</tspan><tspan baseline-shift="3.5" font-size="5.6">−1/4</tspan><tspan> ≈ 0.944</tspan></text>
<rect x="2166.20" y="476.10" width="280.80" height="208.10" fill="#fff" stroke="#5a5a5a" stroke-width="1.1"/>
<text x="2306.60" y="471.10" font-size="14.2" font-family="'Liberation Sans',sans-serif" fill="#1a1a1a" text-anchor="middle" textLength="105.50" lengthAdjust="spacingAndGlyphs">Strong Oracle</text>
<line x1="2162.70" y1="645.30" x2="2166.20" y2="645.30" stroke="#333" stroke-width="0.9"/>
<text x="2161.00" y="649.40" font-size="11.6" font-family="'Liberation Sans',sans-serif" fill="#1a1a1a" text-anchor="end" textLength="17.00" lengthAdjust="spacingAndGlyphs">0.2</text>
<line x1="2162.70" y1="605.30" x2="2166.20" y2="605.30" stroke="#333" stroke-width="0.9"/>
<text x="2161.00" y="609.40" font-size="11.6" font-family="'Liberation Sans',sans-serif" fill="#1a1a1a" text-anchor="end" textLength="17.00" lengthAdjust="spacingAndGlyphs">0.4</text>
<line x1="2162.70" y1="565.30" x2="2166.20" y2="565.30" stroke="#333" stroke-width="0.9"/>
<text x="2161.00" y="569.40" font-size="11.6" font-family="'Liberation Sans',sans-serif" fill="#1a1a1a" text-anchor="end" textLength="17.00" lengthAdjust="spacingAndGlyphs">0.6</text>
<line x1="2162.70" y1="525.30" x2="2166.20" y2="525.30" stroke="#333" stroke-width="0.9"/>
<text x="2161.00" y="529.40" font-size="11.6" font-family="'Liberation Sans',sans-serif" fill="#1a1a1a" text-anchor="end" textLength="17.00" lengthAdjust="spacingAndGlyphs">0.8</text>
<line x1="2162.70" y1="485.30" x2="2166.20" y2="485.30" stroke="#333" stroke-width="0.9"/>
<text x="2161.00" y="489.40" font-size="11.6" font-family="'Liberation Sans',sans-serif" fill="#1a1a1a" text-anchor="end" textLength="17.00" lengthAdjust="spacingAndGlyphs">1.0</text>
<line x1="2178.60" y1="684.20" x2="2178.60" y2="687.70" stroke="#333" stroke-width="0.9"/>
<text x="2178.60" y="698.00" font-size="11.6" font-family="'Liberation Sans',sans-serif" fill="#1a1a1a" text-anchor="middle" textLength="12.50" lengthAdjust="spacingAndGlyphs">1d</text>
<line x1="2242.30" y1="684.20" x2="2242.30" y2="687.70" stroke="#333" stroke-width="0.9"/>
<text x="2242.30" y="698.00" font-size="11.6" font-family="'Liberation Sans',sans-serif" fill="#1a1a1a" text-anchor="middle" textLength="12.50" lengthAdjust="spacingAndGlyphs">2d</text>
<line x1="2306.00" y1="684.20" x2="2306.00" y2="687.70" stroke="#333" stroke-width="0.9"/>
<text x="2306.00" y="698.00" font-size="11.6" font-family="'Liberation Sans',sans-serif" fill="#1a1a1a" text-anchor="middle" textLength="12.50" lengthAdjust="spacingAndGlyphs">4d</text>
<line x1="2369.70" y1="684.20" x2="2369.70" y2="687.70" stroke="#333" stroke-width="0.9"/>
<text x="2369.70" y="698.00" font-size="11.6" font-family="'Liberation Sans',sans-serif" fill="#1a1a1a" text-anchor="middle" textLength="12.50" lengthAdjust="spacingAndGlyphs">8d</text>
<line x1="2433.40" y1="684.20" x2="2433.40" y2="687.70" stroke="#333" stroke-width="0.9"/>
<text x="2433.40" y="698.00" font-size="11.6" font-family="'Liberation Sans',sans-serif" fill="#1a1a1a" text-anchor="middle" textLength="19.50" lengthAdjust="spacingAndGlyphs">16d</text>
<line x1="2195.80" y1="684.20" x2="2195.80" y2="686.20" stroke="#555" stroke-width="0.7"/>
<line x1="2232.40" y1="684.20" x2="2232.40" y2="686.20" stroke="#555" stroke-width="0.7"/>
<line x1="2259.80" y1="684.20" x2="2259.80" y2="686.20" stroke="#555" stroke-width="0.7"/>
<line x1="2279.50" y1="684.20" x2="2279.50" y2="686.20" stroke="#555" stroke-width="0.7"/>
<line x1="2296.70" y1="684.20" x2="2296.70" y2="686.20" stroke="#555" stroke-width="0.7"/>
<line x1="2310.30" y1="684.20" x2="2310.30" y2="686.20" stroke="#555" stroke-width="0.7"/>
<line x1="2323.00" y1="684.20" x2="2323.00" y2="686.20" stroke="#555" stroke-width="0.7"/>
<line x1="2333.90" y1="684.20" x2="2333.90" y2="686.20" stroke="#555" stroke-width="0.7"/>
<line x1="2360.10" y1="684.20" x2="2360.10" y2="686.20" stroke="#555" stroke-width="0.7"/>
<line x1="2408.20" y1="684.20" x2="2408.20" y2="686.20" stroke="#555" stroke-width="0.7"/>
<line x1="2423.20" y1="684.20" x2="2423.20" y2="686.20" stroke="#555" stroke-width="0.7"/>
<line x1="2444.40" y1="684.20" x2="2444.40" y2="686.20" stroke="#555" stroke-width="0.7"/>
<text x="2305.60" y="714.80" font-size="14.4" font-family="'Liberation Sans',sans-serif" fill="#1a1a1a" text-anchor="middle" textLength="201.70" lengthAdjust="spacingAndGlyphs"># Weak Comparison (<tspan font-style="italic">c</tspan> · <tspan font-style="italic">d</tspan>)</text>
<text x="2137.78" y="580.15" font-size="14.4" font-family="'Liberation Sans',sans-serif" fill="#1a1a1a" text-anchor="middle" transform="rotate(-90 2137.78 580.15)" textLength="172.00" lengthAdjust="spacingAndGlyphs">Strong Oracle Calls / n</text>
<line x1="2166.20" y1="674.10" x2="2447.00" y2="674.10" stroke="#8c8c8c" stroke-width="1.3" stroke-dasharray="3.8,1.9"/>
<polyline points="2178.60,497.30 2242.30,486.30 2306.00,485.30 2369.70,485.30 2433.40,485.30" fill="none" stroke="#3472b2" stroke-width="1.25" stroke-linejoin="round"/>
<circle cx="2178.60" cy="497.30" r="2.8" fill="#3472b2"/>
<circle cx="2242.30" cy="486.30" r="2.8" fill="#3472b2"/>
<circle cx="2306.00" cy="485.30" r="2.8" fill="#3472b2"/>
<circle cx="2369.70" cy="485.30" r="2.8" fill="#3472b2"/>
<circle cx="2433.40" cy="485.30" r="2.8" fill="#3472b2"/>
<polyline points="2178.60,642.30 2242.30,650.30 2306.00,657.30 2369.70,656.30 2433.40,650.30" fill="none" stroke="#ee8534" stroke-width="1.25" stroke-linejoin="round"/>
<circle cx="2178.60" cy="642.30" r="2.8" fill="#ee8534"/>
<circle cx="2242.30" cy="650.30" r="2.8" fill="#ee8534"/>
<circle cx="2306.00" cy="657.30" r="2.8" fill="#ee8534"/>
<circle cx="2369.70" cy="656.30" r="2.8" fill="#ee8534"/>
<circle cx="2433.40" cy="650.30" r="2.8" fill="#ee8534"/>
<polyline points="2178.60,663.30 2242.30,662.30 2306.00,661.30 2369.70,659.30 2433.40,655.30" fill="none" stroke="#509e3a" stroke-width="1.25" stroke-linejoin="round"/>
<circle cx="2178.60" cy="663.30" r="2.8" fill="#509e3a"/>
<circle cx="2242.30" cy="662.30" r="2.8" fill="#509e3a"/>
<circle cx="2306.00" cy="661.30" r="2.8" fill="#509e3a"/>
<circle cx="2369.70" cy="659.30" r="2.8" fill="#509e3a"/>
<circle cx="2433.40" cy="655.30" r="2.8" fill="#509e3a"/>
<polyline points="2178.60,663.30 2242.30,662.30 2306.00,661.30 2369.70,660.30 2433.40,657.30" fill="none" stroke="#c53830" stroke-width="1.25" stroke-linejoin="round"/>
<circle cx="2178.60" cy="663.30" r="2.8" fill="#c53830"/>
<circle cx="2242.30" cy="662.30" r="2.8" fill="#c53830"/>
<circle cx="2306.00" cy="661.30" r="2.8" fill="#c53830"/>
<circle cx="2369.70" cy="660.30" r="2.8" fill="#c53830"/>
<circle cx="2433.40" cy="657.30" r="2.8" fill="#c53830"/>
<rect x="2318.30" y="550.40" width="125.00" height="58.90" rx="1.8" fill="#fff" fill-opacity="0.8" stroke="#d0d0d0" stroke-width="0.8"/>
<line x1="2321.30" y1="556.90" x2="2337.30" y2="556.90" stroke="#3472b2" stroke-width="1.25"/>
<circle cx="2329.30" cy="556.90" r="2.6" fill="#3472b2"/>
<text x="2343.80" y="559.80" font-size="8.1" font-family="'Liberation Sans',sans-serif" fill="#1a1a1a" textLength="33.50" lengthAdjust="spacingAndGlyphs">p = 0.51</text>
<line x1="2321.30" y1="568.20" x2="2337.30" y2="568.20" stroke="#ee8534" stroke-width="1.25"/>
<circle cx="2329.30" cy="568.20" r="2.6" fill="#ee8534"/>
<text x="2343.80" y="571.10" font-size="8.1" font-family="'Liberation Sans',sans-serif" fill="#1a1a1a" textLength="33.50" lengthAdjust="spacingAndGlyphs">p = 0.75</text>
<line x1="2321.30" y1="579.70" x2="2337.30" y2="579.70" stroke="#509e3a" stroke-width="1.25"/>
<circle cx="2329.30" cy="579.70" r="2.6" fill="#509e3a"/>
<text x="2343.80" y="582.60" font-size="8.1" font-family="'Liberation Sans',sans-serif" fill="#1a1a1a" textLength="29.35" lengthAdjust="spacingAndGlyphs">p = 0.9</text>
<line x1="2321.30" y1="590.90" x2="2337.30" y2="590.90" stroke="#c53830" stroke-width="1.25"/>
<circle cx="2329.30" cy="590.90" r="2.6" fill="#c53830"/>
<text x="2343.80" y="593.80" font-size="8.1" font-family="'Liberation Sans',sans-serif" fill="#1a1a1a" textLength="29.35" lengthAdjust="spacingAndGlyphs">p = 1.0</text>
<line x1="2321.30" y1="602.40" x2="2337.30" y2="602.40" stroke="#7f7f7f" stroke-width="1.25" stroke-dasharray="3.5,2"/>
<text x="2343.80" y="605.30" font-size="8.1" font-family="'Liberation Sans',sans-serif" fill="#1a1a1a" textLength="95.30" lengthAdjust="spacingAndGlyphs"><tspan>Theoretical </tspan><tspan font-style="italic">n</tspan><tspan baseline-shift="3.5" font-size="5.6">−1/4</tspan><tspan> ≈ 0.056</tspan></text>
<rect x="1836.80" y="785.40" width="280.00" height="208.20" fill="#fff" stroke="#5a5a5a" stroke-width="1.1"/>
<text x="1976.80" y="780.40" font-size="14.2" font-family="'Liberation Sans',sans-serif" fill="#1a1a1a" text-anchor="middle" textLength="69.20" lengthAdjust="spacingAndGlyphs">Accuracy</text>
<line x1="1833.30" y1="984.10" x2="1836.80" y2="984.10" stroke="#333" stroke-width="0.9"/>
<text x="1831.60" y="988.20" font-size="11.6" font-family="'Liberation Sans',sans-serif" fill="#1a1a1a" text-anchor="end" textLength="17.00" lengthAdjust="spacingAndGlyphs">0.0</text>
<line x1="1833.30" y1="946.26" x2="1836.80" y2="946.26" stroke="#333" stroke-width="0.9"/>
<text x="1831.60" y="950.36" font-size="11.6" font-family="'Liberation Sans',sans-serif" fill="#1a1a1a" text-anchor="end" textLength="17.00" lengthAdjust="spacingAndGlyphs">0.2</text>
<line x1="1833.30" y1="908.42" x2="1836.80" y2="908.42" stroke="#333" stroke-width="0.9"/>
<text x="1831.60" y="912.52" font-size="11.6" font-family="'Liberation Sans',sans-serif" fill="#1a1a1a" text-anchor="end" textLength="17.00" lengthAdjust="spacingAndGlyphs">0.4</text>
<line x1="1833.30" y1="870.58" x2="1836.80" y2="870.58" stroke="#333" stroke-width="0.9"/>
<text x="1831.60" y="874.68" font-size="11.6" font-family="'Liberation Sans',sans-serif" fill="#1a1a1a" text-anchor="end" textLength="17.00" lengthAdjust="spacingAndGlyphs">0.6</text>
<line x1="1833.30" y1="832.74" x2="1836.80" y2="832.74" stroke="#333" stroke-width="0.9"/>
<text x="1831.60" y="836.84" font-size="11.6" font-family="'Liberation Sans',sans-serif" fill="#1a1a1a" text-anchor="end" textLength="17.00" lengthAdjust="spacingAndGlyphs">0.8</text>
<line x1="1833.30" y1="794.90" x2="1836.80" y2="794.90" stroke="#333" stroke-width="0.9"/>
<text x="1831.60" y="799.00" font-size="11.6" font-family="'Liberation Sans',sans-serif" fill="#1a1a1a" text-anchor="end" textLength="17.00" lengthAdjust="spacingAndGlyphs">1.0</text>
<line x1="1849.20" y1="993.60" x2="1849.20" y2="997.10" stroke="#333" stroke-width="0.9"/>
<text x="1849.20" y="1007.40" font-size="11.6" font-family="'Liberation Sans',sans-serif" fill="#1a1a1a" text-anchor="middle" textLength="12.50" lengthAdjust="spacingAndGlyphs">1d</text>
<line x1="1912.90" y1="993.60" x2="1912.90" y2="997.10" stroke="#333" stroke-width="0.9"/>
<text x="1912.90" y="1007.40" font-size="11.6" font-family="'Liberation Sans',sans-serif" fill="#1a1a1a" text-anchor="middle" textLength="12.50" lengthAdjust="spacingAndGlyphs">2d</text>
<line x1="1976.60" y1="993.60" x2="1976.60" y2="997.10" stroke="#333" stroke-width="0.9"/>
<text x="1976.60" y="1007.40" font-size="11.6" font-family="'Liberation Sans',sans-serif" fill="#1a1a1a" text-anchor="middle" textLength="12.50" lengthAdjust="spacingAndGlyphs">4d</text>
<line x1="2040.30" y1="993.60" x2="2040.30" y2="997.10" stroke="#333" stroke-width="0.9"/>
<text x="2040.30" y="1007.40" font-size="11.6" font-family="'Liberation Sans',sans-serif" fill="#1a1a1a" text-anchor="middle" textLength="12.50" lengthAdjust="spacingAndGlyphs">8d</text>
<line x1="2104.00" y1="993.60" x2="2104.00" y2="997.10" stroke="#333" stroke-width="0.9"/>
<text x="2104.00" y="1007.40" font-size="11.6" font-family="'Liberation Sans',sans-serif" fill="#1a1a1a" text-anchor="middle" textLength="19.50" lengthAdjust="spacingAndGlyphs">16d</text>
<line x1="1866.40" y1="993.60" x2="1866.40" y2="995.60" stroke="#555" stroke-width="0.7"/>
<line x1="1903.00" y1="993.60" x2="1903.00" y2="995.60" stroke="#555" stroke-width="0.7"/>
<line x1="1930.40" y1="993.60" x2="1930.40" y2="995.60" stroke="#555" stroke-width="0.7"/>
<line x1="1950.10" y1="993.60" x2="1950.10" y2="995.60" stroke="#555" stroke-width="0.7"/>
<line x1="1967.30" y1="993.60" x2="1967.30" y2="995.60" stroke="#555" stroke-width="0.7"/>
<line x1="1980.90" y1="993.60" x2="1980.90" y2="995.60" stroke="#555" stroke-width="0.7"/>
<line x1="1993.60" y1="993.60" x2="1993.60" y2="995.60" stroke="#555" stroke-width="0.7"/>
<line x1="2004.50" y1="993.60" x2="2004.50" y2="995.60" stroke="#555" stroke-width="0.7"/>
<line x1="2030.70" y1="993.60" x2="2030.70" y2="995.60" stroke="#555" stroke-width="0.7"/>
<line x1="2078.80" y1="993.60" x2="2078.80" y2="995.60" stroke="#555" stroke-width="0.7"/>
<line x1="2093.80" y1="993.60" x2="2093.80" y2="995.60" stroke="#555" stroke-width="0.7"/>
<line x1="2115.00" y1="993.60" x2="2115.00" y2="995.60" stroke="#555" stroke-width="0.7"/>
<text x="1975.80" y="1024.20" font-size="14.4" font-family="'Liberation Sans',sans-serif" fill="#1a1a1a" text-anchor="middle" textLength="201.70" lengthAdjust="spacingAndGlyphs"># Weak Comparison (<tspan font-style="italic">c</tspan> · <tspan font-style="italic">d</tspan>)</text>
<text x="1807.88" y="889.50" font-size="14.4" font-family="'Liberation Sans',sans-serif" fill="#1a1a1a" text-anchor="middle" transform="rotate(-90 1807.88 889.50)" textLength="95.00" lengthAdjust="spacingAndGlyphs">Correct Rate</text>
<line x1="1836.80" y1="800.95" x2="2116.80" y2="800.95" stroke="#8c8c8c" stroke-width="1.3" stroke-dasharray="3.8,1.9"/>
<polyline points="1849.20,984.10 1912.90,982.21 1976.60,951.94 2040.30,794.90 2104.00,794.90" fill="none" stroke="#3472b2" stroke-width="1.25" stroke-linejoin="round"/>
<circle cx="1849.20" cy="984.10" r="2.8" fill="#3472b2"/>
<circle cx="1912.90" cy="982.21" r="2.8" fill="#3472b2"/>
<circle cx="1976.60" cy="951.94" r="2.8" fill="#3472b2"/>
<circle cx="2040.30" cy="794.90" r="2.8" fill="#3472b2"/>
<circle cx="2104.00" cy="794.90" r="2.8" fill="#3472b2"/>
<polyline points="1849.20,982.21 1912.90,959.50 1976.60,808.14 2040.30,794.90 2104.00,794.90" fill="none" stroke="#ee8534" stroke-width="1.25" stroke-linejoin="round"/>
<circle cx="1849.20" cy="982.21" r="2.8" fill="#ee8534"/>
<circle cx="1912.90" cy="959.50" r="2.8" fill="#ee8534"/>
<circle cx="1976.60" cy="808.14" r="2.8" fill="#ee8534"/>
<circle cx="2040.30" cy="794.90" r="2.8" fill="#ee8534"/>
<circle cx="2104.00" cy="794.90" r="2.8" fill="#ee8534"/>
<polyline points="1849.20,961.40 1912.90,798.68 1976.60,794.90 2040.30,794.90 2104.00,794.90" fill="none" stroke="#509e3a" stroke-width="1.25" stroke-linejoin="round"/>
<circle cx="1849.20" cy="961.40" r="2.8" fill="#509e3a"/>
<circle cx="1912.90" cy="798.68" r="2.8" fill="#509e3a"/>
<circle cx="1976.60" cy="794.90" r="2.8" fill="#509e3a"/>
<circle cx="2040.30" cy="794.90" r="2.8" fill="#509e3a"/>
<circle cx="2104.00" cy="794.90" r="2.8" fill="#509e3a"/>
<polyline points="1849.20,794.90 1912.90,794.90 1976.60,794.90 2040.30,794.90 2104.00,794.90" fill="none" stroke="#c53830" stroke-width="1.25" stroke-linejoin="round"/>
<circle cx="1849.20" cy="794.90" r="2.8" fill="#c53830"/>
<circle cx="1912.90" cy="794.90" r="2.8" fill="#c53830"/>
<circle cx="1976.60" cy="794.90" r="2.8" fill="#c53830"/>
<circle cx="2040.30" cy="794.90" r="2.8" fill="#c53830"/>
<circle cx="2104.00" cy="794.90" r="2.8" fill="#c53830"/>
<rect x="1973.80" y="930.10" width="139.40" height="58.90" rx="1.8" fill="#fff" fill-opacity="0.8" stroke="#d0d0d0" stroke-width="0.8"/>
<line x1="1976.80" y1="936.50" x2="1992.60" y2="936.50" stroke="#3472b2" stroke-width="1.25"/>
<circle cx="1984.70" cy="936.50" r="2.6" fill="#3472b2"/>
<text x="1998.50" y="939.40" font-size="8.1" font-family="'Liberation Sans',sans-serif" fill="#1a1a1a" textLength="33.50" lengthAdjust="spacingAndGlyphs">p = 0.51</text>
<line x1="1976.80" y1="947.80" x2="1992.60" y2="947.80" stroke="#ee8534" stroke-width="1.25"/>
<circle cx="1984.70" cy="947.80" r="2.6" fill="#ee8534"/>
<text x="1998.50" y="950.70" font-size="8.1" font-family="'Liberation Sans',sans-serif" fill="#1a1a1a" textLength="33.50" lengthAdjust="spacingAndGlyphs">p = 0.75</text>
<line x1="1976.80" y1="959.10" x2="1992.60" y2="959.10" stroke="#509e3a" stroke-width="1.25"/>
<circle cx="1984.70" cy="959.10" r="2.6" fill="#509e3a"/>
<text x="1998.50" y="962.00" font-size="8.1" font-family="'Liberation Sans',sans-serif" fill="#1a1a1a" textLength="29.35" lengthAdjust="spacingAndGlyphs">p = 0.9</text>
<line x1="1976.80" y1="970.50" x2="1992.60" y2="970.50" stroke="#c53830" stroke-width="1.25"/>
<circle cx="1984.70" cy="970.50" r="2.6" fill="#c53830"/>
<text x="1998.50" y="973.40" font-size="8.1" font-family="'Liberation Sans',sans-serif" fill="#1a1a1a" textLength="29.35" lengthAdjust="spacingAndGlyphs">p = 1.0</text>
<line x1="1976.80" y1="982.00" x2="1992.60" y2="982.00" stroke="#7f7f7f" stroke-width="1.25" stroke-dasharray="3.5,2"/>
<text x="1998.50" y="984.90" font-size="8.1" font-family="'Liberation Sans',sans-serif" fill="#1a1a1a" textLength="110.20" lengthAdjust="spacingAndGlyphs"><tspan>Theoretical 1 − </tspan><tspan font-style="italic">n</tspan><tspan baseline-shift="3.5" font-size="5.6">−1/4</tspan><tspan> ≈ 0.968</tspan></text>
<rect x="2166.20" y="785.10" width="280.80" height="208.10" fill="#fff" stroke="#5a5a5a" stroke-width="1.1"/>
<text x="2306.60" y="780.10" font-size="14.2" font-family="'Liberation Sans',sans-serif" fill="#1a1a1a" text-anchor="middle" textLength="105.50" lengthAdjust="spacingAndGlyphs">Strong Oracle</text>
<line x1="2162.70" y1="956.28" x2="2166.20" y2="956.28" stroke="#333" stroke-width="0.9"/>
<text x="2161.00" y="960.38" font-size="11.6" font-family="'Liberation Sans',sans-serif" fill="#1a1a1a" text-anchor="end" textLength="17.00" lengthAdjust="spacingAndGlyphs">0.2</text>
<line x1="2162.70" y1="915.96" x2="2166.20" y2="915.96" stroke="#333" stroke-width="0.9"/>
<text x="2161.00" y="920.06" font-size="11.6" font-family="'Liberation Sans',sans-serif" fill="#1a1a1a" text-anchor="end" textLength="17.00" lengthAdjust="spacingAndGlyphs">0.4</text>
<line x1="2162.70" y1="875.64" x2="2166.20" y2="875.64" stroke="#333" stroke-width="0.9"/>
<text x="2161.00" y="879.74" font-size="11.6" font-family="'Liberation Sans',sans-serif" fill="#1a1a1a" text-anchor="end" textLength="17.00" lengthAdjust="spacingAndGlyphs">0.6</text>
<line x1="2162.70" y1="835.32" x2="2166.20" y2="835.32" stroke="#333" stroke-width="0.9"/>
<text x="2161.00" y="839.42" font-size="11.6" font-family="'Liberation Sans',sans-serif" fill="#1a1a1a" text-anchor="end" textLength="17.00" lengthAdjust="spacingAndGlyphs">0.8</text>
<line x1="2162.70" y1="795.00" x2="2166.20" y2="795.00" stroke="#333" stroke-width="0.9"/>
<text x="2161.00" y="799.10" font-size="11.6" font-family="'Liberation Sans',sans-serif" fill="#1a1a1a" text-anchor="end" textLength="17.00" lengthAdjust="spacingAndGlyphs">1.0</text>
<line x1="2178.60" y1="993.20" x2="2178.60" y2="996.70" stroke="#333" stroke-width="0.9"/>
<text x="2178.60" y="1007.00" font-size="11.6" font-family="'Liberation Sans',sans-serif" fill="#1a1a1a" text-anchor="middle" textLength="12.50" lengthAdjust="spacingAndGlyphs">1d</text>
<line x1="2242.30" y1="993.20" x2="2242.30" y2="996.70" stroke="#333" stroke-width="0.9"/>
<text x="2242.30" y="1007.00" font-size="11.6" font-family="'Liberation Sans',sans-serif" fill="#1a1a1a" text-anchor="middle" textLength="12.50" lengthAdjust="spacingAndGlyphs">2d</text>
<line x1="2306.00" y1="993.20" x2="2306.00" y2="996.70" stroke="#333" stroke-width="0.9"/>
<text x="2306.00" y="1007.00" font-size="11.6" font-family="'Liberation Sans',sans-serif" fill="#1a1a1a" text-anchor="middle" textLength="12.50" lengthAdjust="spacingAndGlyphs">4d</text>
<line x1="2369.70" y1="993.20" x2="2369.70" y2="996.70" stroke="#333" stroke-width="0.9"/>
<text x="2369.70" y="1007.00" font-size="11.6" font-family="'Liberation Sans',sans-serif" fill="#1a1a1a" text-anchor="middle" textLength="12.50" lengthAdjust="spacingAndGlyphs">8d</text>
<line x1="2433.40" y1="993.20" x2="2433.40" y2="996.70" stroke="#333" stroke-width="0.9"/>
<text x="2433.40" y="1007.00" font-size="11.6" font-family="'Liberation Sans',sans-serif" fill="#1a1a1a" text-anchor="middle" textLength="19.50" lengthAdjust="spacingAndGlyphs">16d</text>
<line x1="2195.80" y1="993.20" x2="2195.80" y2="995.20" stroke="#555" stroke-width="0.7"/>
<line x1="2232.40" y1="993.20" x2="2232.40" y2="995.20" stroke="#555" stroke-width="0.7"/>
<line x1="2259.80" y1="993.20" x2="2259.80" y2="995.20" stroke="#555" stroke-width="0.7"/>
<line x1="2279.50" y1="993.20" x2="2279.50" y2="995.20" stroke="#555" stroke-width="0.7"/>
<line x1="2296.70" y1="993.20" x2="2296.70" y2="995.20" stroke="#555" stroke-width="0.7"/>
<line x1="2310.30" y1="993.20" x2="2310.30" y2="995.20" stroke="#555" stroke-width="0.7"/>
<line x1="2323.00" y1="993.20" x2="2323.00" y2="995.20" stroke="#555" stroke-width="0.7"/>
<line x1="2333.90" y1="993.20" x2="2333.90" y2="995.20" stroke="#555" stroke-width="0.7"/>
<line x1="2360.10" y1="993.20" x2="2360.10" y2="995.20" stroke="#555" stroke-width="0.7"/>
<line x1="2408.20" y1="993.20" x2="2408.20" y2="995.20" stroke="#555" stroke-width="0.7"/>
<line x1="2423.20" y1="993.20" x2="2423.20" y2="995.20" stroke="#555" stroke-width="0.7"/>
<line x1="2444.40" y1="993.20" x2="2444.40" y2="995.20" stroke="#555" stroke-width="0.7"/>
<text x="2305.60" y="1023.80" font-size="14.4" font-family="'Liberation Sans',sans-serif" fill="#1a1a1a" text-anchor="middle" textLength="201.70" lengthAdjust="spacingAndGlyphs"># Weak Comparison (<tspan font-style="italic">c</tspan> · <tspan font-style="italic">d</tspan>)</text>
<text x="2137.78" y="889.15" font-size="14.4" font-family="'Liberation Sans',sans-serif" fill="#1a1a1a" text-anchor="middle" transform="rotate(-90 2137.78 889.15)" textLength="172.00" lengthAdjust="spacingAndGlyphs">Strong Oracle Calls / n</text>
<line x1="2166.20" y1="990.15" x2="2447.00" y2="990.15" stroke="#8c8c8c" stroke-width="1.3" stroke-dasharray="3.8,1.9"/>
<polyline points="2178.60,803.06 2242.30,795.40 2306.00,795.00 2369.70,795.00 2433.40,795.00" fill="none" stroke="#3472b2" stroke-width="1.25" stroke-linejoin="round"/>
<circle cx="2178.60" cy="803.06" r="2.8" fill="#3472b2"/>
<circle cx="2242.30" cy="795.40" r="2.8" fill="#3472b2"/>
<circle cx="2306.00" cy="795.00" r="2.8" fill="#3472b2"/>
<circle cx="2369.70" cy="795.00" r="2.8" fill="#3472b2"/>
<circle cx="2433.40" cy="795.00" r="2.8" fill="#3472b2"/>
<polyline points="2178.60,964.34 2242.30,974.02 2306.00,981.48 2369.70,982.49 2433.40,981.48" fill="none" stroke="#ee8534" stroke-width="1.25" stroke-linejoin="round"/>
<circle cx="2178.60" cy="964.34" r="2.8" fill="#ee8534"/>
<circle cx="2242.30" cy="974.02" r="2.8" fill="#ee8534"/>
<circle cx="2306.00" cy="981.48" r="2.8" fill="#ee8534"/>
<circle cx="2369.70" cy="982.49" r="2.8" fill="#ee8534"/>
<circle cx="2433.40" cy="981.48" r="2.8" fill="#ee8534"/>
<polyline points="2178.60,983.50 2242.30,983.50 2306.00,983.09 2369.70,982.49 2433.40,981.88" fill="none" stroke="#509e3a" stroke-width="1.25" stroke-linejoin="round"/>
<circle cx="2178.60" cy="983.50" r="2.8" fill="#509e3a"/>
<circle cx="2242.30" cy="983.50" r="2.8" fill="#509e3a"/>
<circle cx="2306.00" cy="983.09" r="2.8" fill="#509e3a"/>
<circle cx="2369.70" cy="982.49" r="2.8" fill="#509e3a"/>
<circle cx="2433.40" cy="981.88" r="2.8" fill="#509e3a"/>
<polyline points="2178.60,983.50 2242.30,983.50 2306.00,983.50 2369.70,983.09 2433.40,982.49" fill="none" stroke="#c53830" stroke-width="1.25" stroke-linejoin="round"/>
<circle cx="2178.60" cy="983.50" r="2.8" fill="#c53830"/>
<circle cx="2242.30" cy="983.50" r="2.8" fill="#c53830"/>
<circle cx="2306.00" cy="983.50" r="2.8" fill="#c53830"/>
<circle cx="2369.70" cy="983.09" r="2.8" fill="#c53830"/>
<circle cx="2433.40" cy="982.49" r="2.8" fill="#c53830"/>
<rect x="2318.30" y="859.50" width="125.00" height="59.80" rx="1.8" fill="#fff" fill-opacity="0.8" stroke="#d0d0d0" stroke-width="0.8"/>
<line x1="2321.30" y1="866.20" x2="2337.30" y2="866.20" stroke="#3472b2" stroke-width="1.25"/>
<circle cx="2329.30" cy="866.20" r="2.6" fill="#3472b2"/>
<text x="2343.80" y="869.10" font-size="8.1" font-family="'Liberation Sans',sans-serif" fill="#1a1a1a" textLength="33.50" lengthAdjust="spacingAndGlyphs">p = 0.51</text>
<line x1="2321.30" y1="877.50" x2="2337.30" y2="877.50" stroke="#ee8534" stroke-width="1.25"/>
<circle cx="2329.30" cy="877.50" r="2.6" fill="#ee8534"/>
<text x="2343.80" y="880.40" font-size="8.1" font-family="'Liberation Sans',sans-serif" fill="#1a1a1a" textLength="33.50" lengthAdjust="spacingAndGlyphs">p = 0.75</text>
<line x1="2321.30" y1="889.00" x2="2337.30" y2="889.00" stroke="#509e3a" stroke-width="1.25"/>
<circle cx="2329.30" cy="889.00" r="2.6" fill="#509e3a"/>
<text x="2343.80" y="891.90" font-size="8.1" font-family="'Liberation Sans',sans-serif" fill="#1a1a1a" textLength="29.35" lengthAdjust="spacingAndGlyphs">p = 0.9</text>
<line x1="2321.30" y1="900.20" x2="2337.30" y2="900.20" stroke="#c53830" stroke-width="1.25"/>
<circle cx="2329.30" cy="900.20" r="2.6" fill="#c53830"/>
<text x="2343.80" y="903.10" font-size="8.1" font-family="'Liberation Sans',sans-serif" fill="#1a1a1a" textLength="29.35" lengthAdjust="spacingAndGlyphs">p = 1.0</text>
<line x1="2321.30" y1="911.70" x2="2337.30" y2="911.70" stroke="#7f7f7f" stroke-width="1.25" stroke-dasharray="3.5,2"/>
<text x="2343.80" y="914.60" font-size="8.1" font-family="'Liberation Sans',sans-serif" fill="#1a1a1a" textLength="95.30" lengthAdjust="spacingAndGlyphs"><tspan>Theoretical </tspan><tspan font-style="italic">n</tspan><tspan baseline-shift="3.5" font-size="5.6">−1/4</tspan><tspan> ≈ 0.032</tspan></text>
<rect x="1841.50" y="1187.54" width="259.09" height="118.13" fill="#f5d6d8"/>
<line x1="1841.50" y1="1246.45" x2="2100.59" y2="1246.45" stroke="#8e1b1b" stroke-width="2"/>
<polyline points="1841.50,1394.67 1854.45,1339.88 1867.41,1334.81 1880.36,1305.36 1893.32,1301.56 1906.27,1301.56 1919.23,1310.11 1932.18,1265.14 1945.14,1272.74 1958.09,1245.82 1971.05,1276.85 1984.00,1267.67 1996.95,1265.14 2009.91,1268.94 2022.86,1271.15 2035.82,1269.89 2048.77,1268.30 2061.73,1271.47 2074.68,1252.15 2087.64,1261.65 2100.59,1234.42" fill="none" stroke="#000" stroke-width="1.3" stroke-linejoin="round"/>
<circle cx="1841.50" cy="1394.67" r="3.0" fill="#000"/>
<circle cx="1854.45" cy="1339.88" r="3.0" fill="#000"/>
<circle cx="1867.41" cy="1334.81" r="3.0" fill="#000"/>
<circle cx="1880.36" cy="1305.36" r="3.0" fill="#000"/>
<circle cx="1893.32" cy="1301.56" r="3.0" fill="#000"/>
<circle cx="1906.27" cy="1301.56" r="3.0" fill="#000"/>
<circle cx="1919.23" cy="1310.11" r="3.0" fill="#000"/>
<circle cx="1932.18" cy="1265.14" r="3.0" fill="#000"/>
<circle cx="1945.14" cy="1272.74" r="3.0" fill="#000"/>
<circle cx="1958.09" cy="1245.82" r="3.0" fill="#000"/>
<circle cx="1971.05" cy="1276.85" r="3.0" fill="#000"/>
<circle cx="1984.00" cy="1267.67" r="3.0" fill="#000"/>
<circle cx="1996.95" cy="1265.14" r="3.0" fill="#000"/>
<circle cx="2009.91" cy="1268.94" r="3.0" fill="#000"/>
<circle cx="2022.86" cy="1271.15" r="3.0" fill="#000"/>
<circle cx="2035.82" cy="1269.89" r="3.0" fill="#000"/>
<circle cx="2048.77" cy="1268.30" r="3.0" fill="#000"/>
<circle cx="2061.73" cy="1271.47" r="3.0" fill="#000"/>
<circle cx="2074.68" cy="1252.15" r="3.0" fill="#000"/>
<circle cx="2087.64" cy="1261.65" r="3.0" fill="#000"/>
<circle cx="2100.59" cy="1234.42" r="3.0" fill="#000"/>
<rect x="1828.40" y="1177.30" width="285.20" height="227.90" fill="none" stroke="#333" stroke-width="0.9"/>
<line x1="1825.40" y1="1395.30" x2="1828.40" y2="1395.30" stroke="#333" stroke-width="0.8"/>
<text x="1823.40" y="1398.50" font-size="9" font-family="'Liberation Sans',sans-serif" fill="#1a1a1a" text-anchor="end" textLength="5.00" lengthAdjust="spacingAndGlyphs">0</text>
<line x1="1825.40" y1="1363.63" x2="1828.40" y2="1363.63" stroke="#333" stroke-width="0.8"/>
<text x="1823.40" y="1366.83" font-size="9" font-family="'Liberation Sans',sans-serif" fill="#1a1a1a" text-anchor="end" textLength="5.00" lengthAdjust="spacingAndGlyphs">1</text>
<line x1="1825.40" y1="1331.96" x2="1828.40" y2="1331.96" stroke="#333" stroke-width="0.8"/>
<text x="1823.40" y="1335.16" font-size="9" font-family="'Liberation Sans',sans-serif" fill="#1a1a1a" text-anchor="end" textLength="5.00" lengthAdjust="spacingAndGlyphs">2</text>
<line x1="1825.40" y1="1300.29" x2="1828.40" y2="1300.29" stroke="#333" stroke-width="0.8"/>
<text x="1823.40" y="1303.49" font-size="9" font-family="'Liberation Sans',sans-serif" fill="#1a1a1a" text-anchor="end" textLength="5.00" lengthAdjust="spacingAndGlyphs">3</text>
<line x1="1825.40" y1="1268.62" x2="1828.40" y2="1268.62" stroke="#333" stroke-width="0.8"/>
<text x="1823.40" y="1271.82" font-size="9" font-family="'Liberation Sans',sans-serif" fill="#1a1a1a" text-anchor="end" textLength="5.00" lengthAdjust="spacingAndGlyphs">4</text>
<line x1="1825.40" y1="1236.95" x2="1828.40" y2="1236.95" stroke="#333" stroke-width="0.8"/>
<text x="1823.40" y="1240.15" font-size="9" font-family="'Liberation Sans',sans-serif" fill="#1a1a1a" text-anchor="end" textLength="5.00" lengthAdjust="spacingAndGlyphs">5</text>
<line x1="1825.40" y1="1205.28" x2="1828.40" y2="1205.28" stroke="#333" stroke-width="0.8"/>
<text x="1823.40" y="1208.48" font-size="9" font-family="'Liberation Sans',sans-serif" fill="#1a1a1a" text-anchor="end" textLength="5.00" lengthAdjust="spacingAndGlyphs">6</text>
<line x1="1841.50" y1="1405.20" x2="1841.50" y2="1408.20" stroke="#333" stroke-width="0.8"/>
<text x="1841.50" y="1417.40" font-size="9" font-family="'Liberation Sans',sans-serif" fill="#1a1a1a" text-anchor="middle" textLength="5.05" lengthAdjust="spacingAndGlyphs">0</text>
<line x1="1893.32" y1="1405.20" x2="1893.32" y2="1408.20" stroke="#333" stroke-width="0.8"/>
<text x="1893.32" y="1417.40" font-size="9" font-family="'Liberation Sans',sans-serif" fill="#1a1a1a" text-anchor="middle" textLength="20.20" lengthAdjust="spacingAndGlyphs">2000</text>
<line x1="1945.14" y1="1405.20" x2="1945.14" y2="1408.20" stroke="#333" stroke-width="0.8"/>
<text x="1945.14" y="1417.40" font-size="9" font-family="'Liberation Sans',sans-serif" fill="#1a1a1a" text-anchor="middle" textLength="20.20" lengthAdjust="spacingAndGlyphs">4000</text>
<line x1="1996.95" y1="1405.20" x2="1996.95" y2="1408.20" stroke="#333" stroke-width="0.8"/>
<text x="1996.95" y="1417.40" font-size="9" font-family="'Liberation Sans',sans-serif" fill="#1a1a1a" text-anchor="middle" textLength="20.20" lengthAdjust="spacingAndGlyphs">6000</text>
<line x1="2048.77" y1="1405.20" x2="2048.77" y2="1408.20" stroke="#333" stroke-width="0.8"/>
<text x="2048.77" y="1417.40" font-size="9" font-family="'Liberation Sans',sans-serif" fill="#1a1a1a" text-anchor="middle" textLength="20.20" lengthAdjust="spacingAndGlyphs">8000</text>
<line x1="2100.59" y1="1405.20" x2="2100.59" y2="1408.20" stroke="#333" stroke-width="0.8"/>
<text x="2100.59" y="1417.40" font-size="9" font-family="'Liberation Sans',sans-serif" fill="#1a1a1a" text-anchor="middle" textLength="25.25" lengthAdjust="spacingAndGlyphs">10000</text>
<text x="1971.60" y="1434.70" font-size="20.5" font-family="'Liberation Sans',sans-serif" fill="#1a1a1a" text-anchor="middle" textLength="108.40" lengthAdjust="spacingAndGlyphs">width(<tspan font-style="italic">DAG</tspan>)</text>
<text x="1811.58" y="1290.90" font-size="20.5" font-family="'Liberation Sans',sans-serif" fill="#1a1a1a" text-anchor="middle" transform="rotate(-90 1811.58 1290.90)" textLength="170.00" lengthAdjust="spacingAndGlyphs">#Comparisons / n</text>
<line x1="1904.6" y1="1456.8" x2="1925.2" y2="1456.8" stroke="#000" stroke-width="1.2"/>
<circle cx="1914.9" cy="1456.8" r="2.4" fill="#000"/>
<text x="1932.60" y="1459.90" font-size="8.8" font-family="'Liberation Sans',sans-serif" fill="#1a1a1a" textLength="58.50" lengthAdjust="spacingAndGlyphs">Randomized</text>
<line x1="1904.6" y1="1470.9" x2="1925.2" y2="1470.9" stroke="#8e1b1b" stroke-width="1.3"/>
<text x="1932.60" y="1474.00" font-size="8.8" font-family="'Liberation Sans',sans-serif" fill="#1a1a1a" textLength="104.50" lengthAdjust="spacingAndGlyphs">Classic (Mean ±1 std)</text>
<path d="M2170.10,1392.69 L2183.07,1320.85 L2196.03,1301.25 L2208.99,1292.71 L2221.96,1282.92 L2234.92,1277.14 L2247.89,1271.86 L2260.86,1265.58 L2273.82,1261.06 L2286.78,1257.29 L2299.75,1254.53 L2312.72,1250.76 L2325.68,1247.75 L2338.64,1244.23 L2351.61,1240.21 L2364.57,1239.71 L2377.54,1240.21 L2390.51,1242.72 L2403.47,1246.99 L2416.43,1251.01 L2429.40,1253.53 L2429.40,1316.83 L2416.43,1317.08 L2403.47,1316.83 L2390.51,1316.33 L2377.54,1316.33 L2364.57,1317.33 L2351.61,1318.08 L2338.64,1320.34 L2325.68,1321.85 L2312.72,1322.86 L2299.75,1323.86 L2286.78,1325.12 L2273.82,1326.12 L2260.86,1327.63 L2247.89,1329.89 L2234.92,1332.15 L2221.96,1334.16 L2208.99,1338.93 L2196.03,1343.20 L2183.07,1352.50 L2170.10,1394.70 Z" fill="#f6cda0"/>
<path d="M2170.10,1394.70 L2183.07,1352.50 L2196.03,1343.20 L2208.99,1338.93 L2221.96,1334.16 L2234.92,1332.15 L2247.89,1329.89 L2260.86,1327.63 L2273.82,1326.12 L2286.78,1325.12 L2299.75,1323.86 L2312.72,1322.86 L2325.68,1321.85 L2338.64,1320.34 L2351.61,1318.08 L2364.57,1317.33 L2377.54,1316.33 L2390.51,1316.33 L2403.47,1316.83 L2416.43,1317.08 L2429.40,1316.83 L2429.40,1394.70 L2170.10,1394.70 Z" fill="#aecbe0"/>
<rect x="2170.10" y="1187.46" width="259.30" height="23.11" fill="#f5d6d8"/>
<line x1="2170.10" y1="1199.02" x2="2429.40" y2="1199.02" stroke="#8e1b1b" stroke-width="2"/>
<polyline points="2170.10,1392.69 2183.07,1320.85 2196.03,1301.25 2208.99,1292.71 2221.96,1282.92 2234.92,1277.14 2247.89,1271.86 2260.86,1265.58 2273.82,1261.06 2286.78,1257.29 2299.75,1254.53 2312.72,1250.76 2325.68,1247.75 2338.64,1244.23 2351.61,1240.21 2364.57,1239.71 2377.54,1240.21 2390.51,1242.72 2403.47,1246.99 2416.43,1251.01 2429.40,1253.53" fill="none" stroke="#000" stroke-width="1.3" stroke-linejoin="round"/>
<circle cx="2170.10" cy="1392.69" r="2.6" fill="#000"/>
<circle cx="2183.07" cy="1320.85" r="2.6" fill="#000"/>
<circle cx="2196.03" cy="1301.25" r="2.6" fill="#000"/>
<circle cx="2208.99" cy="1292.71" r="2.6" fill="#000"/>
<circle cx="2221.96" cy="1282.92" r="2.6" fill="#000"/>
<circle cx="2234.92" cy="1277.14" r="2.6" fill="#000"/>
<circle cx="2247.89" cy="1271.86" r="2.6" fill="#000"/>
<circle cx="2260.86" cy="1265.58" r="2.6" fill="#000"/>
<circle cx="2273.82" cy="1261.06" r="2.6" fill="#000"/>
<circle cx="2286.78" cy="1257.29" r="2.6" fill="#000"/>
<circle cx="2299.75" cy="1254.53" r="2.6" fill="#000"/>
<circle cx="2312.72" cy="1250.76" r="2.6" fill="#000"/>
<circle cx="2325.68" cy="1247.75" r="2.6" fill="#000"/>
<circle cx="2338.64" cy="1244.23" r="2.6" fill="#000"/>
<circle cx="2351.61" cy="1240.21" r="2.6" fill="#000"/>
<circle cx="2364.57" cy="1239.71" r="2.6" fill="#000"/>
<circle cx="2377.54" cy="1240.21" r="2.6" fill="#000"/>
<circle cx="2390.51" cy="1242.72" r="2.6" fill="#000"/>
<circle cx="2403.47" cy="1246.99" r="2.6" fill="#000"/>
<circle cx="2416.43" cy="1251.01" r="2.6" fill="#000"/>
<circle cx="2429.40" cy="1253.53" r="2.6" fill="#000"/>
<rect x="2157.50" y="1177.30" width="285.00" height="227.90" fill="none" stroke="#333" stroke-width="0.9"/>
<line x1="2154.50" y1="1394.70" x2="2157.50" y2="1394.70" stroke="#333" stroke-width="0.8"/>
<text x="2152.50" y="1397.90" font-size="9" font-family="'Liberation Sans',sans-serif" fill="#1a1a1a" text-anchor="end" textLength="5.00" lengthAdjust="spacingAndGlyphs">0</text>
<line x1="2154.50" y1="1344.46" x2="2157.50" y2="1344.46" stroke="#333" stroke-width="0.8"/>
<text x="2152.50" y="1347.66" font-size="9" font-family="'Liberation Sans',sans-serif" fill="#1a1a1a" text-anchor="end" textLength="5.00" lengthAdjust="spacingAndGlyphs">2</text>
<line x1="2154.50" y1="1294.22" x2="2157.50" y2="1294.22" stroke="#333" stroke-width="0.8"/>
<text x="2152.50" y="1297.42" font-size="9" font-family="'Liberation Sans',sans-serif" fill="#1a1a1a" text-anchor="end" textLength="5.00" lengthAdjust="spacingAndGlyphs">4</text>
<line x1="2154.50" y1="1243.98" x2="2157.50" y2="1243.98" stroke="#333" stroke-width="0.8"/>
<text x="2152.50" y="1247.18" font-size="9" font-family="'Liberation Sans',sans-serif" fill="#1a1a1a" text-anchor="end" textLength="5.00" lengthAdjust="spacingAndGlyphs">6</text>
<line x1="2154.50" y1="1193.74" x2="2157.50" y2="1193.74" stroke="#333" stroke-width="0.8"/>
<text x="2152.50" y="1196.94" font-size="9" font-family="'Liberation Sans',sans-serif" fill="#1a1a1a" text-anchor="end" textLength="5.00" lengthAdjust="spacingAndGlyphs">8</text>
<line x1="2170.10" y1="1405.20" x2="2170.10" y2="1408.20" stroke="#333" stroke-width="0.8"/>
<text x="2170.10" y="1417.40" font-size="9" font-family="'Liberation Sans',sans-serif" fill="#1a1a1a" text-anchor="middle" textLength="5.05" lengthAdjust="spacingAndGlyphs">0</text>
<line x1="2221.96" y1="1405.20" x2="2221.96" y2="1408.20" stroke="#333" stroke-width="0.8"/>
<text x="2221.96" y="1417.40" font-size="9" font-family="'Liberation Sans',sans-serif" fill="#1a1a1a" text-anchor="middle" textLength="20.20" lengthAdjust="spacingAndGlyphs">2000</text>
<line x1="2273.82" y1="1405.20" x2="2273.82" y2="1408.20" stroke="#333" stroke-width="0.8"/>
<text x="2273.82" y="1417.40" font-size="9" font-family="'Liberation Sans',sans-serif" fill="#1a1a1a" text-anchor="middle" textLength="20.20" lengthAdjust="spacingAndGlyphs">4000</text>
<line x1="2325.68" y1="1405.20" x2="2325.68" y2="1408.20" stroke="#333" stroke-width="0.8"/>
<text x="2325.68" y="1417.40" font-size="9" font-family="'Liberation Sans',sans-serif" fill="#1a1a1a" text-anchor="middle" textLength="20.20" lengthAdjust="spacingAndGlyphs">6000</text>
<line x1="2377.54" y1="1405.20" x2="2377.54" y2="1408.20" stroke="#333" stroke-width="0.8"/>
<text x="2377.54" y="1417.40" font-size="9" font-family="'Liberation Sans',sans-serif" fill="#1a1a1a" text-anchor="middle" textLength="20.20" lengthAdjust="spacingAndGlyphs">8000</text>
<line x1="2429.40" y1="1405.20" x2="2429.40" y2="1408.20" stroke="#333" stroke-width="0.8"/>
<text x="2429.40" y="1417.40" font-size="9" font-family="'Liberation Sans',sans-serif" fill="#1a1a1a" text-anchor="middle" textLength="25.25" lengthAdjust="spacingAndGlyphs">10000</text>
<text x="2300.20" y="1434.70" font-size="20.5" font-family="'Liberation Sans',sans-serif" fill="#1a1a1a" text-anchor="middle" textLength="108.40" lengthAdjust="spacingAndGlyphs">width(<tspan font-style="italic">DAG</tspan>)</text>
<text x="2140.88" y="1290.90" font-size="20.5" font-family="'Liberation Sans',sans-serif" fill="#1a1a1a" text-anchor="middle" transform="rotate(-90 2140.88 1290.90)" textLength="170.00" lengthAdjust="spacingAndGlyphs">#Comparisons / n</text>
<rect x="2157.5" y="1453.0" width="19.8" height="7.6" fill="#aecbe0"/>
<text x="2185.20" y="1459.90" font-size="8.8" font-family="'Liberation Sans',sans-serif" fill="#1a1a1a" textLength="105.20" lengthAdjust="spacingAndGlyphs">Partition Comparisons</text>
<rect x="2157.5" y="1467.2" width="19.8" height="7.6" fill="#f6cda0"/>
<text x="2185.20" y="1474.00" font-size="8.8" font-family="'Liberation Sans',sans-serif" fill="#1a1a1a" textLength="99.50" lengthAdjust="spacingAndGlyphs">Sorting Comparisons</text>
<line x1="2309.4" y1="1456.8" x2="2329.4" y2="1456.8" stroke="#000" stroke-width="1.2"/>
<circle cx="2319.4" cy="1456.8" r="2.4" fill="#000"/>
<text x="2337.20" y="1459.90" font-size="8.8" font-family="'Liberation Sans',sans-serif" fill="#1a1a1a" textLength="63.50" lengthAdjust="spacingAndGlyphs">Deterministic</text>
<line x1="2309.4" y1="1470.9" x2="2329.4" y2="1470.9" stroke="#8e1b1b" stroke-width="1.3"/>
<text x="2337.20" y="1474.00" font-size="8.8" font-family="'Liberation Sans',sans-serif" fill="#1a1a1a" textLength="104.50" lengthAdjust="spacingAndGlyphs">Classic (Mean ±1 std)</text>
<g><ellipse cx="2245.9" cy="58.9" rx="4.8" ry="6.3" transform="rotate(-15 2245.9 58.9)" fill="#5f428b"/><ellipse cx="2261.0" cy="58.6" rx="4.1" ry="5.8" transform="rotate(0 2261.0 58.6)" fill="#5f428b"/><ellipse cx="2230.1" cy="62.7" rx="5.1" ry="6.5" transform="rotate(-35 2230.1 62.7)" fill="#5f428b"/><ellipse cx="2275.0" cy="62.0" rx="3.9" ry="5.8" transform="rotate(-5 2275.0 62.0)" fill="#5f428b"/><ellipse cx="2214.8" cy="69.8" rx="5.8" ry="6.5" transform="rotate(-30 2214.8 69.8)" fill="#5f428b"/><ellipse cx="2286.5" cy="66.8" rx="3.4" ry="4.4" transform="rotate(-10 2286.5 66.8)" fill="#5f428b"/><ellipse cx="2261.4" cy="73.9" rx="3.4" ry="4.4" transform="rotate(0 2261.4 73.9)" fill="#5f428b"/><ellipse cx="2272.9" cy="75.3" rx="3.1" ry="4.1" transform="rotate(0 2272.9 75.3)" fill="#5f428b"/><ellipse cx="2296.1" cy="74.9" rx="2.7" ry="3.9" transform="rotate(5 2296.1 74.9)" fill="#5f428b"/><ellipse cx="2237.2" cy="79.0" rx="3.9" ry="4.9" transform="rotate(-20 2237.2 79.0)" fill="#5f428b"/><ellipse cx="2282.8" cy="79.4" rx="2.6" ry="3.5" transform="rotate(10 2282.8 79.4)" fill="#5f428b"/><ellipse cx="2200.8" cy="77.7" rx="5.8" ry="4.6" transform="rotate(25 2200.8 77.7)" fill="#5f428b"/><ellipse cx="2262.0" cy="85.8" rx="2.6" ry="2.7" transform="rotate(0 2262.0 85.8)" fill="#5f428b"/><ellipse cx="2271.2" cy="85.5" rx="2.4" ry="3.1" transform="rotate(0 2271.2 85.5)" fill="#5f428b"/><ellipse cx="2252.9" cy="87.9" rx="3.1" ry="3.7" transform="rotate(-10 2252.9 87.9)" fill="#5f428b"/><ellipse cx="2243.0" cy="91.6" rx="3.1" ry="3.4" transform="rotate(0 2243.0 91.6)" fill="#5f428b"/><ellipse cx="2302.9" cy="84.1" rx="3.1" ry="3.7" transform="rotate(20 2302.9 84.1)" fill="#5f428b"/><ellipse cx="2309.7" cy="90.2" rx="2.0" ry="3.1" transform="rotate(20 2309.7 90.2)" fill="#5f428b"/><ellipse cx="2314.4" cy="95.7" rx="1.4" ry="2.0" transform="rotate(20 2314.4 95.7)" fill="#5f428b"/><ellipse cx="2192.7" cy="90.6" rx="6.4" ry="5.3" transform="rotate(30 2192.7 90.6)" fill="#5f428b"/><ellipse cx="2211.0" cy="98.7" rx="4.9" ry="4.2" transform="rotate(20 2211.0 98.7)" fill="#5f428b"/><ellipse cx="2235.2" cy="97.4" rx="3.4" ry="3.7" transform="rotate(-10 2235.2 97.4)" fill="#5f428b"/><ellipse cx="2224.3" cy="105.5" rx="3.5" ry="3.7" transform="rotate(0 2224.3 105.5)" fill="#5f428b"/><ellipse cx="2192.0" cy="106.9" rx="6.1" ry="5.0" transform="rotate(30 2192.0 106.9)" fill="#5f428b"/><ellipse cx="2182.8" cy="93.0" rx="2.0" ry="1.2" transform="rotate(-20 2182.8 93.0)" fill="#5f428b"/><ellipse cx="2180.1" cy="99.4" rx="3.1" ry="2.0" transform="rotate(-20 2180.1 99.4)" fill="#5f428b"/><ellipse cx="2177.5" cy="107.7" rx="3.5" ry="2.7" transform="rotate(-10 2177.5 107.7)" fill="#8a6aa2"/><ellipse cx="2173.0" cy="118.9" rx="4.1" ry="2.9" transform="rotate(-15 2173.0 118.9)" fill="#8a6aa2"/><ellipse cx="2171.2" cy="130.9" rx="4.9" ry="3.4" transform="rotate(-25 2171.2 130.9)" fill="#8a6aa2"/><ellipse cx="2183.5" cy="128.1" rx="3.5" ry="2.7" transform="rotate(-15 2183.5 128.1)" fill="#8a6aa2"/><ellipse cx="2194.4" cy="135.1" rx="2.8" ry="2.3" transform="rotate(-15 2194.4 135.1)" fill="#8a6aa2"/><ellipse cx="2184.9" cy="138.6" rx="3.9" ry="3.0" transform="rotate(-25 2184.9 138.6)" fill="#8a6aa2"/><ellipse cx="2171.9" cy="143.5" rx="5.2" ry="4.1" transform="rotate(-30 2171.9 143.5)" fill="#8a6aa2"/><ellipse cx="2198.9" cy="142.8" rx="3.1" ry="2.8" transform="rotate(-20 2198.9 142.8)" fill="#8a6aa2"/><ellipse cx="2189.1" cy="149.5" rx="4.2" ry="3.4" transform="rotate(-20 2189.1 149.5)" fill="#8a6aa2"/><ellipse cx="2205.6" cy="150.2" rx="3.5" ry="3.3" transform="rotate(-20 2205.6 150.2)" fill="#8a6aa2"/><ellipse cx="2176.1" cy="156.8" rx="5.6" ry="4.0" transform="rotate(-15 2176.1 156.8)" fill="#8a6aa2"/><ellipse cx="2213.7" cy="156.1" rx="3.4" ry="3.3" transform="rotate(0 2213.7 156.1)" fill="#8a6aa2"/><ellipse cx="2222.8" cy="160.7" rx="3.4" ry="3.6" transform="rotate(20 2222.8 160.7)" fill="#8a6aa2"/><ellipse cx="2234.7" cy="166.6" rx="3.4" ry="3.8" transform="rotate(30 2234.7 166.6)" fill="#8a6aa2"/><ellipse cx="2183.5" cy="170.1" rx="5.5" ry="6.0" transform="rotate(35 2183.5 170.1)" fill="#8a6aa2"/><ellipse cx="2205.2" cy="168.0" rx="4.3" ry="4.7" transform="rotate(30 2205.2 168.0)" fill="#8a6aa2"/><ellipse cx="2194.7" cy="182.1" rx="5.6" ry="6.3" transform="rotate(15 2194.7 182.1)" fill="#8a6aa2"/><ellipse cx="2235.8" cy="181.7" rx="4.1" ry="5.2" transform="rotate(0 2235.8 181.7)" fill="#8a6aa2"/><ellipse cx="2208.4" cy="192.2" rx="5.5" ry="6.6" transform="rotate(15 2208.4 192.2)" fill="#8a6aa2"/><ellipse cx="2222.4" cy="200.3" rx="5.2" ry="6.6" transform="rotate(0 2222.4 200.3)" fill="#8a6aa2"/><ellipse cx="2237.2" cy="201.4" rx="5.0" ry="6.6" transform="rotate(0 2237.2 201.4)" fill="#8a6aa2"/><ellipse cx="2251.9" cy="194.0" rx="5.0" ry="6.6" transform="rotate(0 2251.9 194.0)" fill="#8a6aa2"/><ellipse cx="2249.5" cy="74.5" rx="3.2" ry="3.6" transform="rotate(0 2249.5 74.5)" fill="#5f428b"/><ellipse cx="2224" cy="83.1" rx="3.4" ry="3.2" transform="rotate(0 2224 83.1)" fill="#5f428b"/><ellipse cx="2290" cy="83" rx="2.4" ry="2.4" transform="rotate(0 2290 83)" fill="#5f428b"/><ellipse cx="2183.5" cy="118.2" rx="2.8" ry="3.0" transform="rotate(0 2183.5 118.2)" fill="#8a6aa2"/><ellipse cx="2196.5" cy="159.6" rx="3.2" ry="3.4" transform="rotate(0 2196.5 159.6)" fill="#8a6aa2"/><ellipse cx="2215.4" cy="177.2" rx="3.2" ry="3.6" transform="rotate(0 2215.4 177.2)" fill="#8a6aa2"/><path d="M2230.1,62.7 Q2240,71 2249.5,74.5" fill="none" stroke="#5f428b" stroke-width="4.6" stroke-linecap="round"/><path d="M2249.5,74.5 Q2255,68 2259,62" fill="none" stroke="#5f428b" stroke-width="4.0" stroke-linecap="round"/><path d="M2249.5,74.5 Q2256,80 2262,85.8" fill="none" stroke="#5f428b" stroke-width="3.6" stroke-linecap="round"/><path d="M2200.8,77.7 Q2212,82 2224,83.1" fill="none" stroke="#5f428b" stroke-width="4.6" stroke-linecap="round"/><path d="M2224,83.1 Q2234,88 2243,91.6" fill="none" stroke="#5f428b" stroke-width="4.0" stroke-linecap="round"/><path d="M2224,83.1 Q2225,94 2224.3,103" fill="none" stroke="#5f428b" stroke-width="3.6" stroke-linecap="round"/><path d="M2286.5,66.8 Q2288,78 2291,84" fill="none" stroke="#5f428b" stroke-width="3.4" stroke-linecap="round"/><path d="M2291,84 Q2297,84 2302.9,84.1" fill="none" stroke="#5f428b" stroke-width="3.4" stroke-linecap="round"/><path d="M2177.5,107.7 Q2181,112 2183.8,118.2" fill="none" stroke="#8a6aa2" stroke-width="3.8" stroke-linecap="round"/><path d="M2183.8,118.2 Q2178,125 2171.2,130.9" fill="none" stroke="#8a6aa2" stroke-width="3.8" stroke-linecap="round"/><path d="M2198.9,142.8 Q2198,152 2196.5,159.6" fill="none" stroke="#8a6aa2" stroke-width="4.0" stroke-linecap="round"/><path d="M2196.5,159.6 Q2186,157 2176.1,156.8" fill="none" stroke="#8a6aa2" stroke-width="4.2" stroke-linecap="round"/><path d="M2196.5,159.6 Q2196,172 2194.7,182.1" fill="none" stroke="#8a6aa2" stroke-width="4.2" stroke-linecap="round"/><path d="M2213.7,156.1 Q2214,168 2215.4,177.2" fill="none" stroke="#8a6aa2" stroke-width="4.0" stroke-linecap="round"/><path d="M2215.4,177.2 Q2225,170 2234.7,166.6" fill="none" stroke="#8a6aa2" stroke-width="3.8" stroke-linecap="round"/><path d="M2215.4,177.2 Q2219,190 2222.4,200.3" fill="none" stroke="#8a6aa2" stroke-width="4.0" stroke-linecap="round"/></g>
<path d="M1825.10,75.80h24.14v3.45h-24.14zM1859.58,75.80h10.35v3.45h-10.35zM1873.38,75.80h3.45v3.45h-3.45zM1883.72,75.80h3.45v3.45h-3.45zM1890.62,75.80h6.90v3.45h-6.90zM1900.97,75.80h6.90v3.45h-6.90zM1914.76,75.80h24.14v3.45h-24.14zM1825.10,79.25h3.45v3.45h-3.45zM1845.79,79.25h3.45v3.45h-3.45zM1856.14,79.25h10.35v3.45h-10.35zM1876.83,79.25h3.45v3.45h-3.45zM1883.72,79.25h3.45v3.45h-3.45zM1894.07,79.25h3.45v3.45h-3.45zM1900.97,79.25h3.45v3.45h-3.45zM1914.76,79.25h3.45v3.45h-3.45zM1935.45,79.25h3.45v3.45h-3.45zM1825.10,82.70h3.45v3.45h-3.45zM1832.00,82.70h10.35v3.45h-10.35zM1845.79,82.70h3.45v3.45h-3.45zM1852.69,82.70h10.35v3.45h-10.35zM1873.38,82.70h6.90v3.45h-6.90zM1897.52,82.70h6.90v3.45h-6.90zM1907.86,82.70h3.45v3.45h-3.45zM1914.76,82.70h3.45v3.45h-3.45zM1921.66,82.70h10.35v3.45h-10.35zM1935.45,82.70h3.45v3.45h-3.45zM1825.10,86.15h3.45v3.45h-3.45zM1832.00,86.15h10.35v3.45h-10.35zM1845.79,86.15h3.45v3.45h-3.45zM1852.69,86.15h3.45v3.45h-3.45zM1859.58,86.15h10.35v3.45h-10.35zM1876.83,86.15h3.45v3.45h-3.45zM1883.72,86.15h10.35v3.45h-10.35zM1904.42,86.15h6.90v3.45h-6.90zM1914.76,86.15h3.45v3.45h-3.45zM1921.66,86.15h10.35v3.45h-10.35zM1935.45,86.15h3.45v3.45h-3.45zM1825.10,89.59h3.45v3.45h-3.45zM1832.00,89.59h10.35v3.45h-10.35zM1845.79,89.59h3.45v3.45h-3.45zM1852.69,89.59h3.45v3.45h-3.45zM1866.48,89.59h3.45v3.45h-3.45zM1873.38,89.59h10.35v3.45h-10.35zM1890.62,89.59h3.45v3.45h-3.45zM1897.52,89.59h3.45v3.45h-3.45zM1904.42,89.59h3.45v3.45h-3.45zM1914.76,89.59h3.45v3.45h-3.45zM1921.66,89.59h10.35v3.45h-10.35zM1935.45,89.59h3.45v3.45h-3.45zM1825.10,93.04h3.45v3.45h-3.45zM1845.79,93.04h3.45v3.45h-3.45zM1852.69,93.04h6.90v3.45h-6.90zM1863.03,93.04h10.35v3.45h-10.35zM1883.72,93.04h6.90v3.45h-6.90zM1897.52,93.04h3.45v3.45h-3.45zM1914.76,93.04h3.45v3.45h-3.45zM1935.45,93.04h3.45v3.45h-3.45zM1825.10,96.49h24.14v3.45h-24.14zM1852.69,96.49h3.45v3.45h-3.45zM1859.58,96.49h3.45v3.45h-3.45zM1866.48,96.49h3.45v3.45h-3.45zM1873.38,96.49h3.45v3.45h-3.45zM1880.28,96.49h3.45v3.45h-3.45zM1887.17,96.49h3.45v3.45h-3.45zM1894.07,96.49h3.45v3.45h-3.45zM1900.97,96.49h3.45v3.45h-3.45zM1907.86,96.49h3.45v3.45h-3.45zM1914.76,96.49h24.14v3.45h-24.14zM1852.69,99.94h3.45v3.45h-3.45zM1866.48,99.94h3.45v3.45h-3.45zM1880.28,99.94h3.45v3.45h-3.45zM1887.17,99.94h6.90v3.45h-6.90zM1897.52,99.94h3.45v3.45h-3.45zM1904.42,99.94h3.45v3.45h-3.45zM1825.10,103.39h3.45v3.45h-3.45zM1832.00,103.39h17.24v3.45h-17.24zM1856.14,103.39h3.45v3.45h-3.45zM1863.03,103.39h3.45v3.45h-3.45zM1869.93,103.39h3.45v3.45h-3.45zM1880.28,103.39h6.90v3.45h-6.90zM1900.97,103.39h3.45v3.45h-3.45zM1907.86,103.39h3.45v3.45h-3.45zM1914.76,103.39h17.24v3.45h-17.24zM1832.00,106.84h6.90v3.45h-6.90zM1842.34,106.84h3.45v3.45h-3.45zM1852.69,106.84h3.45v3.45h-3.45zM1859.58,106.84h3.45v3.45h-3.45zM1869.93,106.84h6.90v3.45h-6.90zM1890.62,106.84h6.90v3.45h-6.90zM1900.97,106.84h6.90v3.45h-6.90zM1914.76,106.84h6.90v3.45h-6.90zM1925.11,106.84h6.90v3.45h-6.90zM1935.45,106.84h3.45v3.45h-3.45zM1825.10,110.28h6.90v3.45h-6.90zM1838.89,110.28h3.45v3.45h-3.45zM1845.79,110.28h3.45v3.45h-3.45zM1852.69,110.28h6.90v3.45h-6.90zM1863.03,110.28h17.24v3.45h-17.24zM1887.17,110.28h3.45v3.45h-3.45zM1900.97,110.28h3.45v3.45h-3.45zM1907.86,110.28h10.35v3.45h-10.35zM1921.66,110.28h3.45v3.45h-3.45zM1928.55,110.28h6.90v3.45h-6.90zM1825.10,113.73h6.90v3.45h-6.90zM1835.45,113.73h3.45v3.45h-3.45zM1852.69,113.73h6.90v3.45h-6.90zM1863.03,113.73h3.45v3.45h-3.45zM1869.93,113.73h3.45v3.45h-3.45zM1890.62,113.73h20.69v3.45h-20.69zM1914.76,113.73h3.45v3.45h-3.45zM1921.66,113.73h10.35v3.45h-10.35zM1825.10,117.18h6.90v3.45h-6.90zM1835.45,117.18h3.45v3.45h-3.45zM1845.79,117.18h3.45v3.45h-3.45zM1856.14,117.18h10.35v3.45h-10.35zM1873.38,117.18h6.90v3.45h-6.90zM1883.72,117.18h6.90v3.45h-6.90zM1894.07,117.18h3.45v3.45h-3.45zM1900.97,117.18h3.45v3.45h-3.45zM1907.86,117.18h3.45v3.45h-3.45zM1918.21,117.18h10.35v3.45h-10.35zM1932.00,117.18h6.90v3.45h-6.90zM1825.10,120.63h10.35v3.45h-10.35zM1838.89,120.63h3.45v3.45h-3.45zM1863.03,120.63h6.90v3.45h-6.90zM1876.83,120.63h3.45v3.45h-3.45zM1890.62,120.63h17.24v3.45h-17.24zM1914.76,120.63h3.45v3.45h-3.45zM1925.11,120.63h3.45v3.45h-3.45zM1932.00,120.63h6.90v3.45h-6.90zM1825.10,124.08h10.35v3.45h-10.35zM1838.89,124.08h3.45v3.45h-3.45zM1845.79,124.08h3.45v3.45h-3.45zM1852.69,124.08h3.45v3.45h-3.45zM1859.58,124.08h3.45v3.45h-3.45zM1866.48,124.08h3.45v3.45h-3.45zM1873.38,124.08h10.35v3.45h-10.35zM1894.07,124.08h3.45v3.45h-3.45zM1911.31,124.08h6.90v3.45h-6.90zM1925.11,124.08h3.45v3.45h-3.45zM1932.00,124.08h3.45v3.45h-3.45zM1825.10,127.53h3.45v3.45h-3.45zM1832.00,127.53h6.90v3.45h-6.90zM1842.34,127.53h3.45v3.45h-3.45zM1852.69,127.53h3.45v3.45h-3.45zM1859.58,127.53h3.45v3.45h-3.45zM1869.93,127.53h10.35v3.45h-10.35zM1887.17,127.53h3.45v3.45h-3.45zM1894.07,127.53h10.35v3.45h-10.35zM1911.31,127.53h10.35v3.45h-10.35zM1925.11,127.53h6.90v3.45h-6.90zM1825.10,130.98h3.45v3.45h-3.45zM1832.00,130.98h3.45v3.45h-3.45zM1842.34,130.98h13.79v3.45h-13.79zM1863.03,130.98h3.45v3.45h-3.45zM1876.83,130.98h10.35v3.45h-10.35zM1894.07,130.98h3.45v3.45h-3.45zM1911.31,130.98h3.45v3.45h-3.45zM1918.21,130.98h6.90v3.45h-6.90zM1935.45,130.98h3.45v3.45h-3.45zM1835.45,134.42h6.90v3.45h-6.90zM1852.69,134.42h10.35v3.45h-10.35zM1873.38,134.42h3.45v3.45h-3.45zM1890.62,134.42h10.35v3.45h-10.35zM1904.42,134.42h3.45v3.45h-3.45zM1914.76,134.42h6.90v3.45h-6.90zM1925.11,134.42h6.90v3.45h-6.90zM1935.45,134.42h3.45v3.45h-3.45zM1825.10,137.87h3.45v3.45h-3.45zM1835.45,137.87h3.45v3.45h-3.45zM1845.79,137.87h3.45v3.45h-3.45zM1859.58,137.87h6.90v3.45h-6.90zM1876.83,137.87h6.90v3.45h-6.90zM1887.17,137.87h3.45v3.45h-3.45zM1894.07,137.87h6.90v3.45h-6.90zM1911.31,137.87h13.79v3.45h-13.79zM1928.55,137.87h6.90v3.45h-6.90zM1832.00,141.32h3.45v3.45h-3.45zM1838.89,141.32h3.45v3.45h-3.45zM1849.24,141.32h6.90v3.45h-6.90zM1869.93,141.32h6.90v3.45h-6.90zM1880.28,141.32h3.45v3.45h-3.45zM1890.62,141.32h10.35v3.45h-10.35zM1911.31,141.32h3.45v3.45h-3.45zM1918.21,141.32h20.69v3.45h-20.69zM1835.45,144.77h3.45v3.45h-3.45zM1842.34,144.77h20.69v3.45h-20.69zM1869.93,144.77h6.90v3.45h-6.90zM1880.28,144.77h13.79v3.45h-13.79zM1900.97,144.77h3.45v3.45h-3.45zM1907.86,144.77h6.90v3.45h-6.90zM1918.21,144.77h10.35v3.45h-10.35zM1932.00,144.77h6.90v3.45h-6.90zM1825.10,148.22h3.45v3.45h-3.45zM1832.00,148.22h3.45v3.45h-3.45zM1838.89,148.22h3.45v3.45h-3.45zM1849.24,148.22h6.90v3.45h-6.90zM1863.03,148.22h3.45v3.45h-3.45zM1873.38,148.22h3.45v3.45h-3.45zM1890.62,148.22h6.90v3.45h-6.90zM1904.42,148.22h3.45v3.45h-3.45zM1914.76,148.22h3.45v3.45h-3.45zM1928.55,148.22h3.45v3.45h-3.45zM1935.45,148.22h3.45v3.45h-3.45zM1825.10,151.67h3.45v3.45h-3.45zM1838.89,151.67h13.79v3.45h-13.79zM1856.14,151.67h6.90v3.45h-6.90zM1869.93,151.67h3.45v3.45h-3.45zM1876.83,151.67h3.45v3.45h-3.45zM1900.97,151.67h3.45v3.45h-3.45zM1911.31,151.67h6.90v3.45h-6.90zM1921.66,151.67h6.90v3.45h-6.90zM1932.00,151.67h3.45v3.45h-3.45zM1825.10,155.12h3.45v3.45h-3.45zM1835.45,155.12h3.45v3.45h-3.45zM1842.34,155.12h3.45v3.45h-3.45zM1852.69,155.12h3.45v3.45h-3.45zM1859.58,155.12h3.45v3.45h-3.45zM1873.38,155.12h6.90v3.45h-6.90zM1894.07,155.12h6.90v3.45h-6.90zM1907.86,155.12h3.45v3.45h-3.45zM1914.76,155.12h6.90v3.45h-6.90zM1928.55,155.12h10.35v3.45h-10.35zM1825.10,158.56h3.45v3.45h-3.45zM1842.34,158.56h6.90v3.45h-6.90zM1852.69,158.56h13.79v3.45h-13.79zM1873.38,158.56h3.45v3.45h-3.45zM1883.72,158.56h3.45v3.45h-3.45zM1900.97,158.56h24.14v3.45h-24.14zM1935.45,158.56h3.45v3.45h-3.45zM1852.69,162.01h3.45v3.45h-3.45zM1859.58,162.01h3.45v3.45h-3.45zM1866.48,162.01h3.45v3.45h-3.45zM1873.38,162.01h3.45v3.45h-3.45zM1883.72,162.01h10.35v3.45h-10.35zM1904.42,162.01h6.90v3.45h-6.90zM1921.66,162.01h3.45v3.45h-3.45zM1928.55,162.01h3.45v3.45h-3.45zM1935.45,162.01h3.45v3.45h-3.45zM1825.10,165.46h24.14v3.45h-24.14zM1866.48,165.46h13.79v3.45h-13.79zM1887.17,165.46h3.45v3.45h-3.45zM1894.07,165.46h3.45v3.45h-3.45zM1900.97,165.46h10.35v3.45h-10.35zM1914.76,165.46h3.45v3.45h-3.45zM1921.66,165.46h3.45v3.45h-3.45zM1928.55,165.46h3.45v3.45h-3.45zM1825.10,168.91h3.45v3.45h-3.45zM1845.79,168.91h3.45v3.45h-3.45zM1852.69,168.91h6.90v3.45h-6.90zM1863.03,168.91h10.35v3.45h-10.35zM1876.83,168.91h6.90v3.45h-6.90zM1890.62,168.91h3.45v3.45h-3.45zM1897.52,168.91h13.79v3.45h-13.79zM1921.66,168.91h13.79v3.45h-13.79zM1825.10,172.36h3.45v3.45h-3.45zM1832.00,172.36h10.35v3.45h-10.35zM1845.79,172.36h3.45v3.45h-3.45zM1852.69,172.36h6.90v3.45h-6.90zM1866.48,172.36h10.35v3.45h-10.35zM1880.28,172.36h10.35v3.45h-10.35zM1894.07,172.36h3.45v3.45h-3.45zM1900.97,172.36h3.45v3.45h-3.45zM1907.86,172.36h20.69v3.45h-20.69zM1932.00,172.36h3.45v3.45h-3.45zM1825.10,175.81h3.45v3.45h-3.45zM1832.00,175.81h10.35v3.45h-10.35zM1845.79,175.81h3.45v3.45h-3.45zM1852.69,175.81h3.45v3.45h-3.45zM1866.48,175.81h3.45v3.45h-3.45zM1873.38,175.81h3.45v3.45h-3.45zM1890.62,175.81h24.14v3.45h-24.14zM1921.66,175.81h6.90v3.45h-6.90zM1932.00,175.81h6.90v3.45h-6.90zM1825.10,179.25h3.45v3.45h-3.45zM1832.00,179.25h10.35v3.45h-10.35zM1845.79,179.25h3.45v3.45h-3.45zM1852.69,179.25h6.90v3.45h-6.90zM1869.93,179.25h3.45v3.45h-3.45zM1876.83,179.25h3.45v3.45h-3.45zM1887.17,179.25h3.45v3.45h-3.45zM1894.07,179.25h3.45v3.45h-3.45zM1904.42,179.25h6.90v3.45h-6.90zM1914.76,179.25h6.90v3.45h-6.90zM1925.11,179.25h3.45v3.45h-3.45zM1825.10,182.70h3.45v3.45h-3.45zM1845.79,182.70h3.45v3.45h-3.45zM1856.14,182.70h17.24v3.45h-17.24zM1890.62,182.70h3.45v3.45h-3.45zM1897.52,182.70h6.90v3.45h-6.90zM1911.31,182.70h3.45v3.45h-3.45zM1921.66,182.70h10.35v3.45h-10.35zM1825.10,186.15h24.14v3.45h-24.14zM1852.69,186.15h3.45v3.45h-3.45zM1866.48,186.15h3.45v3.45h-3.45zM1873.38,186.15h6.90v3.45h-6.90zM1883.72,186.15h3.45v3.45h-3.45zM1900.97,186.15h10.35v3.45h-10.35zM1918.21,186.15h3.45v3.45h-3.45zM1925.11,186.15h3.45v3.45h-3.45zM1932.00,186.15h3.45v3.45h-3.45z" fill="#000" shape-rendering="crispEdges"/>
</svg></body></html>
